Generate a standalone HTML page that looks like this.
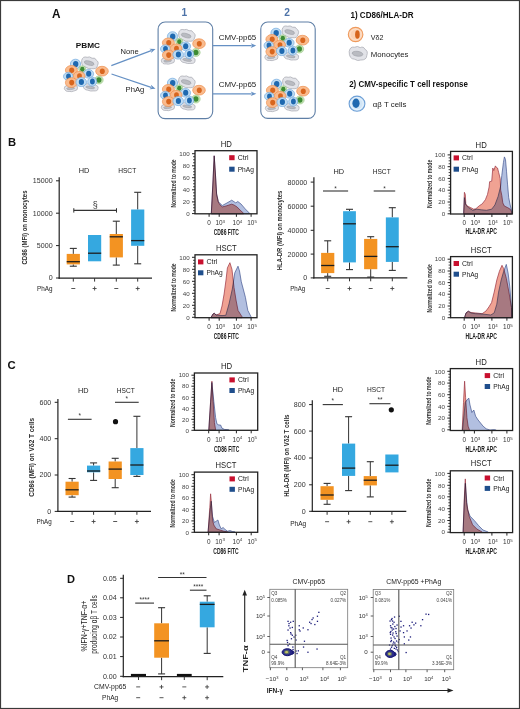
<!DOCTYPE html><html><head><meta charset="utf-8"><style>html,body{margin:0;padding:0;background:#fff;width:520px;height:709px;overflow:hidden}</style></head><body><svg width="520" height="709" viewBox="0 0 520 709" style="display:block;font-family:'Liberation Sans', sans-serif">
<rect x="0" y="0" width="520" height="709" fill="#fff"/>
<defs><g id="cl"><g transform="translate(25.6,5.9) rotate(14)"><path d="M-8.3,-0.5700000000000001 Q-8.3,-5.13 -3.7350000000000003,-4.845 Q-1.6600000000000001,-6.555 1.245,-5.13 Q4.15,-6.84 5.8100000000000005,-4.275 Q9.13,-3.42 8.3,0.5700000000000001 Q8.715000000000002,4.5600000000000005 3.3200000000000003,5.13 Q0.8300000000000001,6.555 -2.49,5.13 Q-7.470000000000001,5.7 -8.3,-0.5700000000000001 Z" fill="#e2e3e8" stroke="#a9abb3" stroke-width="0.7"/><ellipse cx="-0.41500000000000004" cy="0.28500000000000003" rx="4.98" ry="2.052" fill="#b9bbc1" stroke="#96989f" stroke-width="0.5"/></g><g transform="translate(26.6,30.3) rotate(8)"><path d="M-7.5,-0.36000000000000004 Q-7.5,-3.24 -3.375,-3.06 Q-1.5,-4.14 1.125,-3.24 Q3.75,-4.32 5.25,-2.7 Q8.25,-2.16 7.5,0.36000000000000004 Q7.875,2.8800000000000003 3.0,3.24 Q0.75,4.14 -2.25,3.24 Q-6.75,3.6 -7.5,-0.36000000000000004 Z" fill="#e2e3e8" stroke="#a9abb3" stroke-width="0.7"/><ellipse cx="-0.375" cy="0.18000000000000002" rx="4.5" ry="1.296" fill="#b9bbc1" stroke="#96989f" stroke-width="0.5"/></g><g transform="translate(6.9,31.2) rotate(-4)"><path d="M-6.6,-0.34 Q-6.6,-3.06 -2.9699999999999998,-2.8899999999999997 Q-1.32,-3.9099999999999997 0.9899999999999999,-3.06 Q3.3,-4.08 4.619999999999999,-2.55 Q7.26,-2.04 6.6,0.34 Q6.93,2.72 2.64,3.06 Q0.66,3.9099999999999997 -1.9799999999999998,3.06 Q-5.9399999999999995,3.4 -6.6,-0.34 Z" fill="#e2e3e8" stroke="#a9abb3" stroke-width="0.7"/><ellipse cx="-0.33" cy="0.17" rx="3.9599999999999995" ry="1.224" fill="#b9bbc1" stroke="#96989f" stroke-width="0.5"/></g><ellipse cx="11.5" cy="7" rx="5.1" ry="4.8" fill="#bfdcf3" stroke="#72aadf" stroke-width="0.7"/><ellipse cx="11.7" cy="7" rx="2.7" ry="3.1" fill="#1f69b0"/><ellipse cx="38" cy="14.2" rx="6.3" ry="4.9" fill="#f9bb8e" stroke="#ee9050" stroke-width="0.7"/><ellipse cx="38.3" cy="14.2" rx="2.5" ry="2.8" fill="#d8661e"/><ellipse cx="7.4" cy="13.2" rx="6.0" ry="4.7" fill="#f9bb8e" stroke="#ee9050" stroke-width="0.7"/><ellipse cx="7.7" cy="13.2" rx="2.5" ry="2.7" fill="#d8661e"/><ellipse cx="18.3" cy="12.2" rx="3.6" ry="3.5" fill="#c4e2b4" stroke="#98c886" stroke-width="0.6"/><ellipse cx="18.3" cy="12.2" rx="2.16" ry="2.4499999999999997" fill="#3d8c34"/><ellipse cx="24.5" cy="16.8" rx="5.1" ry="4.3" fill="#bfdcf3" stroke="#72aadf" stroke-width="0.7"/><ellipse cx="24.7" cy="16.8" rx="2.6" ry="3.0" fill="#1f69b0"/><ellipse cx="4.3" cy="19.4" rx="4.8" ry="4.0" fill="#bfdcf3" stroke="#72aadf" stroke-width="0.7"/><ellipse cx="4.5" cy="19.4" rx="2.4" ry="2.8" fill="#1f69b0"/><ellipse cx="15.2" cy="18.9" rx="5.8" ry="4.5" fill="#f9bb8e" stroke="#ee9050" stroke-width="0.7"/><ellipse cx="15.5" cy="18.9" rx="2.4" ry="2.7" fill="#d8661e"/><ellipse cx="34.9" cy="23" rx="4.3" ry="4.0" fill="#c4e2b4" stroke="#98c886" stroke-width="0.6"/><ellipse cx="34.9" cy="23" rx="2.5799999999999996" ry="2.8" fill="#3d8c34"/><ellipse cx="7.4" cy="25.6" rx="6.0" ry="4.9" fill="#f9bb8e" stroke="#ee9050" stroke-width="0.7"/><ellipse cx="7.7" cy="25.6" rx="2.5" ry="2.8" fill="#d8661e"/><ellipse cx="17.2" cy="25.1" rx="5.3" ry="4.5" fill="#bfdcf3" stroke="#72aadf" stroke-width="0.7"/><ellipse cx="17.4" cy="25.1" rx="2.6" ry="3.0" fill="#1f69b0"/><ellipse cx="28.2" cy="24.6" rx="4.5" ry="4.5" fill="#bfdcf3" stroke="#72aadf" stroke-width="0.7"/><ellipse cx="28.4" cy="24.6" rx="2.4" ry="3.0" fill="#1f69b0"/></g></defs>
<rect x="0.5" y="0.5" width="519" height="708" fill="none" stroke="#3a3a3a" stroke-width="1.2"/>
<text x="52" y="18" font-size="12.3" font-weight="bold" fill="#111" text-anchor="start" textLength="8.5" lengthAdjust="spacingAndGlyphs" >A</text>
<text x="184.4" y="16" font-size="10.2" font-weight="bold" fill="#4d73a8" text-anchor="middle" >1</text>
<text x="287.2" y="16" font-size="10.2" font-weight="bold" fill="#4d73a8" text-anchor="middle" >2</text>
<rect x="158.1" y="22" width="54.6" height="96.6" rx="7" fill="none" stroke="#5f7fa6" stroke-width="1.1"/>
<rect x="260.8" y="22" width="54.4" height="96.4" rx="7" fill="none" stroke="#5f7fa6" stroke-width="1.1"/>
<text x="75.8" y="47.6" font-size="7.9" font-weight="bold" fill="#111" text-anchor="start" textLength="24.2" lengthAdjust="spacingAndGlyphs" >PBMC</text>
<text x="120.6" y="53.7" font-size="7.9" font-weight="normal" fill="#222" text-anchor="start" textLength="18.1" lengthAdjust="spacingAndGlyphs" >None</text>
<text x="125.6" y="91.6" font-size="7.9" font-weight="normal" fill="#222" text-anchor="start" textLength="18.8" lengthAdjust="spacingAndGlyphs" >PhAg</text>
<text x="218.7" y="39.8" font-size="8" font-weight="normal" fill="#222" text-anchor="start" textLength="37.6" lengthAdjust="spacingAndGlyphs" >CMV-pp65</text>
<text x="218.7" y="87.4" font-size="8" font-weight="normal" fill="#222" text-anchor="start" textLength="37.6" lengthAdjust="spacingAndGlyphs" >CMV-pp65</text>
<line x1="111.3" y1="65.6" x2="151.19368708974446" y2="50.61730303869326" stroke="#6590c4" stroke-width="1.15"/>
<polygon points="155.5,49 151.06618362860075,53.12204711092826 151.66176457998964,50.441509230139644 149.4488805899075,48.815734200672715" fill="#6590c4"/>
<line x1="111.5" y1="74" x2="151.14003663201188" y2="87.33346686713126" stroke="#6590c4" stroke-width="1.15"/>
<polygon points="155.5,88.8 149.45895194210183,89.19463700050169 151.6139456937497,87.49287264244309 150.92548507497057,84.83467363251357" fill="#6590c4"/>
<line x1="213" y1="45.6" x2="251.70000000000002" y2="45.6" stroke="#6590c4" stroke-width="1.15"/>
<polygon points="256.3,45.6 250.70000000000002,47.9 252.20000000000002,45.6 250.70000000000002,43.300000000000004" fill="#6590c4"/>
<line x1="213" y1="93.8" x2="251.70000000000002" y2="93.8" stroke="#6590c4" stroke-width="1.15"/>
<polygon points="256.3,93.8 250.70000000000002,96.1 252.20000000000002,93.8 250.70000000000002,91.5" fill="#6590c4"/>
<use href="#cl" x="64" y="57"/>
<use href="#cl" x="161" y="29.5"/>
<use href="#cl" x="161" y="76"/>
<use href="#cl" x="264.5" y="26"/>
<use href="#cl" x="265" y="77"/>
<text x="350.4" y="18.0" font-size="8.3" font-weight="bold" fill="#111" text-anchor="start" textLength="63.3" lengthAdjust="spacingAndGlyphs" >1) CD86/HLA-DR</text>
<ellipse cx="355.6" cy="34.5" rx="7.3" ry="7.1" fill="#fbd2b4" stroke="#ef9a5c" stroke-width="1.1"/><ellipse cx="355.6" cy="34.5" rx="5.6" ry="5.5" fill="none" stroke="#fde4d2" stroke-width="0.8"/><ellipse cx="357.4" cy="34.5" rx="2.3" ry="4.3" fill="#d6641c"/>
<text x="370.8" y="39.6" font-size="7.9" font-weight="normal" fill="#222" text-anchor="start" textLength="12.7" lengthAdjust="spacingAndGlyphs" >V&#948;2</text>
<g transform="translate(358,53.5) rotate(8)"><path d="M-9,-0.68 Q-9.0,-6.12 -4.05,-5.779999999999999 Q-1.8,-7.819999999999999 1.3499999999999999,-6.12 Q4.5,-8.16 6.3,-5.1 Q9.9,-4.08 9,0.68 Q9.450000000000001,5.44 3.6,6.12 Q0.9,7.819999999999999 -2.6999999999999997,6.12 Q-8.1,6.8 -9,-0.68 Z" fill="#e2e3e8" stroke="#a9abb3" stroke-width="0.7"/><ellipse cx="-0.45" cy="0.34" rx="5.3999999999999995" ry="2.448" fill="#b9bbc1" stroke="#96989f" stroke-width="0.5"/></g>
<text x="370.8" y="57.4" font-size="7.9" font-weight="normal" fill="#222" text-anchor="start" textLength="37.6" lengthAdjust="spacingAndGlyphs" >Monocytes</text>
<text x="349.2" y="86.9" font-size="8.3" font-weight="bold" fill="#111" text-anchor="start" textLength="118.7" lengthAdjust="spacingAndGlyphs" >2) CMV-specific T cell response</text>
<ellipse cx="357" cy="103.7" rx="7.9" ry="7.6" fill="#d2e6f7" stroke="#6d9fd6" stroke-width="1.1"/><ellipse cx="357" cy="103.7" rx="6.2" ry="6" fill="none" stroke="#eef6fd" stroke-width="0.8"/><ellipse cx="356" cy="103.3" rx="3.6" ry="4.7" fill="#1f69b0"/>
<text x="372.7" y="107.2" font-size="7.9" font-weight="normal" fill="#222" text-anchor="start" textLength="33.7" lengthAdjust="spacingAndGlyphs" >&#945;&#946; T cells</text>
<line x1="59.2" y1="177.2" x2="59.2" y2="278.70000000000005" stroke="#222" stroke-width="1.2"/>
<line x1="58.6" y1="278.1" x2="152" y2="278.1" stroke="#222" stroke-width="1.2"/>
<line x1="56.0" y1="180.8" x2="59.2" y2="180.8" stroke="#222" stroke-width="1"/>
<text x="52.6" y="183.20000000000002" font-size="7.1" font-weight="normal" fill="#333" text-anchor="end" >15000</text>
<line x1="56.0" y1="213.2" x2="59.2" y2="213.2" stroke="#222" stroke-width="1"/>
<text x="52.6" y="215.6" font-size="7.1" font-weight="normal" fill="#333" text-anchor="end" >10000</text>
<line x1="56.0" y1="245.6" x2="59.2" y2="245.6" stroke="#222" stroke-width="1"/>
<text x="52.6" y="248.0" font-size="7.1" font-weight="normal" fill="#333" text-anchor="end" >5000</text>
<line x1="56.0" y1="278" x2="59.2" y2="278" stroke="#222" stroke-width="1"/>
<text x="52.6" y="280.4" font-size="7.1" font-weight="normal" fill="#333" text-anchor="end" >0</text>
<line x1="73.3" y1="278.1" x2="73.3" y2="281.6" stroke="#333" stroke-width="1"/>
<line x1="73.3" y1="248.4" x2="73.3" y2="253.9" stroke="#333" stroke-width="1"/>
<line x1="69.8" y1="248.4" x2="76.8" y2="248.4" stroke="#333" stroke-width="1.1"/>
<line x1="73.3" y1="264.4" x2="73.3" y2="266.2" stroke="#333" stroke-width="1"/>
<line x1="69.8" y1="266.2" x2="76.8" y2="266.2" stroke="#333" stroke-width="1.1"/>
<rect x="66.7" y="253.9" width="13.2" height="10.499999999999972" fill="#f39322"/>
<line x1="66.7" y1="261.7" x2="79.89999999999999" y2="261.7" stroke="#1d1d1d" stroke-width="1.3"/>
<line x1="94.6" y1="278.1" x2="94.6" y2="281.6" stroke="#333" stroke-width="1"/>
<rect x="88.0" y="235" width="13.2" height="26.30000000000001" fill="#35a8e0"/>
<line x1="88.0" y1="253.2" x2="101.19999999999999" y2="253.2" stroke="#1d1d1d" stroke-width="1.3"/>
<line x1="116.3" y1="278.1" x2="116.3" y2="281.6" stroke="#333" stroke-width="1"/>
<line x1="116.3" y1="221.2" x2="116.3" y2="234" stroke="#333" stroke-width="1"/>
<line x1="112.8" y1="221.2" x2="119.8" y2="221.2" stroke="#333" stroke-width="1.1"/>
<line x1="116.3" y1="257.4" x2="116.3" y2="265.1" stroke="#333" stroke-width="1"/>
<line x1="112.8" y1="265.1" x2="119.8" y2="265.1" stroke="#333" stroke-width="1.1"/>
<rect x="109.7" y="234" width="13.2" height="23.399999999999977" fill="#f39322"/>
<line x1="109.7" y1="236.8" x2="122.89999999999999" y2="236.8" stroke="#1d1d1d" stroke-width="1.3"/>
<line x1="137.7" y1="278.1" x2="137.7" y2="281.6" stroke="#333" stroke-width="1"/>
<line x1="137.7" y1="192.3" x2="137.7" y2="209.5" stroke="#333" stroke-width="1"/>
<line x1="134.2" y1="192.3" x2="141.2" y2="192.3" stroke="#333" stroke-width="1.1"/>
<line x1="137.7" y1="245.8" x2="137.7" y2="263.8" stroke="#333" stroke-width="1"/>
<line x1="134.2" y1="263.8" x2="141.2" y2="263.8" stroke="#333" stroke-width="1.1"/>
<rect x="131.1" y="209.5" width="13.2" height="36.30000000000001" fill="#35a8e0"/>
<line x1="131.1" y1="240.6" x2="144.29999999999998" y2="240.6" stroke="#1d1d1d" stroke-width="1.3"/>
<line x1="73.8" y1="210.4" x2="116.5" y2="210.4" stroke="#333" stroke-width="1.1"/>
<line x1="73.8" y1="208.20000000000002" x2="73.8" y2="212.6" stroke="#333" stroke-width="1"/>
<line x1="116.5" y1="208.20000000000002" x2="116.5" y2="212.6" stroke="#333" stroke-width="1"/>
<text x="95.15" y="207.6" font-size="9" font-weight="normal" fill="#333" text-anchor="middle" >&#167;</text>
<text x="84" y="173.1" font-size="7.2" font-weight="normal" fill="#222" text-anchor="middle" textLength="10.6" lengthAdjust="spacingAndGlyphs" >HD</text>
<text x="127.2" y="173.1" font-size="7.2" font-weight="normal" fill="#222" text-anchor="middle" textLength="18" lengthAdjust="spacingAndGlyphs" >HSCT</text>
<text x="37" y="291" font-size="7.2" font-weight="normal" fill="#222" text-anchor="start" textLength="15.5" lengthAdjust="spacingAndGlyphs" >PhAg</text>
<line x1="71.3" y1="288.5" x2="75.3" y2="288.5" stroke="#444" stroke-width="0.9"/>
<line x1="92.6" y1="288.5" x2="96.6" y2="288.5" stroke="#444" stroke-width="0.9"/>
<line x1="94.6" y1="286.5" x2="94.6" y2="290.5" stroke="#444" stroke-width="0.9"/>
<line x1="114.3" y1="288.5" x2="118.3" y2="288.5" stroke="#444" stroke-width="0.9"/>
<line x1="135.7" y1="288.5" x2="139.7" y2="288.5" stroke="#444" stroke-width="0.9"/>
<line x1="137.7" y1="286.5" x2="137.7" y2="290.5" stroke="#444" stroke-width="0.9"/>
<text transform="translate(27,227.5) rotate(-90)" x="0" y="0" font-size="7.6" font-weight="bold" fill="#2a2a2a" text-anchor="middle" textLength="74" lengthAdjust="spacingAndGlyphs">CD86 (MFI) on monocytes</text>
<line x1="313.9" y1="177.2" x2="313.9" y2="278.40000000000003" stroke="#222" stroke-width="1.2"/>
<line x1="313.29999999999995" y1="277.8" x2="407.3" y2="277.8" stroke="#222" stroke-width="1.2"/>
<line x1="310.7" y1="182.1" x2="313.9" y2="182.1" stroke="#222" stroke-width="1"/>
<text x="307.29999999999995" y="184.5" font-size="7.1" font-weight="normal" fill="#333" text-anchor="end" >80000</text>
<line x1="310.7" y1="206.2" x2="313.9" y2="206.2" stroke="#222" stroke-width="1"/>
<text x="307.29999999999995" y="208.6" font-size="7.1" font-weight="normal" fill="#333" text-anchor="end" >60000</text>
<line x1="310.7" y1="230.3" x2="313.9" y2="230.3" stroke="#222" stroke-width="1"/>
<text x="307.29999999999995" y="232.70000000000002" font-size="7.1" font-weight="normal" fill="#333" text-anchor="end" >40000</text>
<line x1="310.7" y1="254.1" x2="313.9" y2="254.1" stroke="#222" stroke-width="1"/>
<text x="307.29999999999995" y="256.5" font-size="7.1" font-weight="normal" fill="#333" text-anchor="end" >20000</text>
<line x1="310.7" y1="277.9" x2="313.9" y2="277.9" stroke="#222" stroke-width="1"/>
<text x="307.29999999999995" y="280.29999999999995" font-size="7.1" font-weight="normal" fill="#333" text-anchor="end" >0</text>
<line x1="327.7" y1="277.8" x2="327.7" y2="281.3" stroke="#333" stroke-width="1"/>
<line x1="327.7" y1="240.8" x2="327.7" y2="252.9" stroke="#333" stroke-width="1"/>
<line x1="324.2" y1="240.8" x2="331.2" y2="240.8" stroke="#333" stroke-width="1.1"/>
<line x1="327.7" y1="273.1" x2="327.7" y2="276.3" stroke="#333" stroke-width="1"/>
<line x1="324.2" y1="276.3" x2="331.2" y2="276.3" stroke="#333" stroke-width="1.1"/>
<rect x="321.09999999999997" y="252.9" width="13.2" height="20.200000000000017" fill="#f39322"/>
<line x1="321.09999999999997" y1="265.5" x2="334.3" y2="265.5" stroke="#1d1d1d" stroke-width="1.3"/>
<line x1="349.5" y1="277.8" x2="349.5" y2="281.3" stroke="#333" stroke-width="1"/>
<line x1="349.5" y1="209.3" x2="349.5" y2="211.2" stroke="#333" stroke-width="1"/>
<line x1="346.0" y1="209.3" x2="353.0" y2="209.3" stroke="#333" stroke-width="1.1"/>
<line x1="349.5" y1="262.4" x2="349.5" y2="269.6" stroke="#333" stroke-width="1"/>
<line x1="346.0" y1="269.6" x2="353.0" y2="269.6" stroke="#333" stroke-width="1.1"/>
<rect x="343.1" y="211.2" width="12.8" height="51.19999999999999" fill="#35a8e0"/>
<line x1="343.1" y1="223.8" x2="355.9" y2="223.8" stroke="#1d1d1d" stroke-width="1.3"/>
<line x1="370.7" y1="277.8" x2="370.7" y2="281.3" stroke="#333" stroke-width="1"/>
<line x1="370.7" y1="236.7" x2="370.7" y2="238.9" stroke="#333" stroke-width="1"/>
<line x1="367.2" y1="236.7" x2="374.2" y2="236.7" stroke="#333" stroke-width="1.1"/>
<line x1="370.7" y1="269.2" x2="370.7" y2="277.1" stroke="#333" stroke-width="1"/>
<line x1="367.2" y1="277.1" x2="374.2" y2="277.1" stroke="#333" stroke-width="1.1"/>
<rect x="364.09999999999997" y="238.9" width="13.2" height="30.299999999999983" fill="#f39322"/>
<line x1="364.09999999999997" y1="256.4" x2="377.3" y2="256.4" stroke="#1d1d1d" stroke-width="1.3"/>
<line x1="392.3" y1="277.8" x2="392.3" y2="281.3" stroke="#333" stroke-width="1"/>
<line x1="392.3" y1="207.7" x2="392.3" y2="217.4" stroke="#333" stroke-width="1"/>
<line x1="388.8" y1="207.7" x2="395.8" y2="207.7" stroke="#333" stroke-width="1.1"/>
<line x1="392.3" y1="261.9" x2="392.3" y2="270.4" stroke="#333" stroke-width="1"/>
<line x1="388.8" y1="270.4" x2="395.8" y2="270.4" stroke="#333" stroke-width="1.1"/>
<rect x="385.85" y="217.4" width="12.9" height="44.49999999999997" fill="#35a8e0"/>
<line x1="385.85" y1="246.7" x2="398.75" y2="246.7" stroke="#1d1d1d" stroke-width="1.3"/>
<line x1="323" y1="191" x2="348.1" y2="191" stroke="#333" stroke-width="1.1"/>
<text x="335.55" y="190.6" font-size="6.5" font-weight="normal" fill="#333" text-anchor="middle" >*</text>
<line x1="373.7" y1="191" x2="395.2" y2="191" stroke="#333" stroke-width="1.1"/>
<text x="384.45" y="190.6" font-size="6.5" font-weight="normal" fill="#333" text-anchor="middle" >*</text>
<text x="338.7" y="173.9" font-size="7.2" font-weight="normal" fill="#222" text-anchor="middle" textLength="10.6" lengthAdjust="spacingAndGlyphs" >HD</text>
<text x="381.7" y="173.9" font-size="7.2" font-weight="normal" fill="#222" text-anchor="middle" textLength="18" lengthAdjust="spacingAndGlyphs" >HSCT</text>
<text x="290.2" y="291" font-size="7.2" font-weight="normal" fill="#222" text-anchor="start" textLength="15" lengthAdjust="spacingAndGlyphs" >PhAg</text>
<line x1="325.7" y1="288.5" x2="329.7" y2="288.5" stroke="#444" stroke-width="0.9"/>
<line x1="347.5" y1="288.5" x2="351.5" y2="288.5" stroke="#444" stroke-width="0.9"/>
<line x1="349.5" y1="286.5" x2="349.5" y2="290.5" stroke="#444" stroke-width="0.9"/>
<line x1="368.7" y1="288.5" x2="372.7" y2="288.5" stroke="#444" stroke-width="0.9"/>
<line x1="390.3" y1="288.5" x2="394.3" y2="288.5" stroke="#444" stroke-width="0.9"/>
<line x1="392.3" y1="286.5" x2="392.3" y2="290.5" stroke="#444" stroke-width="0.9"/>
<text transform="translate(282,230.4) rotate(-90)" x="0" y="0" font-size="7.6" font-weight="bold" fill="#2a2a2a" text-anchor="middle" textLength="79.5" lengthAdjust="spacingAndGlyphs">HLA-DR (MFI) on monocytes</text>
<line x1="57.9" y1="399.1" x2="57.9" y2="511.90000000000003" stroke="#222" stroke-width="1.2"/>
<line x1="57.3" y1="511.3" x2="151" y2="511.3" stroke="#222" stroke-width="1.2"/>
<line x1="54.699999999999996" y1="402.3" x2="57.9" y2="402.3" stroke="#222" stroke-width="1"/>
<text x="51.3" y="404.7" font-size="7.1" font-weight="normal" fill="#333" text-anchor="end" >600</text>
<line x1="54.699999999999996" y1="438.7" x2="57.9" y2="438.7" stroke="#222" stroke-width="1"/>
<text x="51.3" y="441.09999999999997" font-size="7.1" font-weight="normal" fill="#333" text-anchor="end" >400</text>
<line x1="54.699999999999996" y1="475" x2="57.9" y2="475" stroke="#222" stroke-width="1"/>
<text x="51.3" y="477.4" font-size="7.1" font-weight="normal" fill="#333" text-anchor="end" >200</text>
<line x1="54.699999999999996" y1="511.4" x2="57.9" y2="511.4" stroke="#222" stroke-width="1"/>
<text x="51.3" y="513.8" font-size="7.1" font-weight="normal" fill="#333" text-anchor="end" >0</text>
<line x1="72.1" y1="511.3" x2="72.1" y2="514.8" stroke="#333" stroke-width="1"/>
<line x1="72.1" y1="478.5" x2="72.1" y2="481.7" stroke="#333" stroke-width="1"/>
<line x1="68.6" y1="478.5" x2="75.6" y2="478.5" stroke="#333" stroke-width="1.1"/>
<line x1="72.1" y1="495.2" x2="72.1" y2="497.1" stroke="#333" stroke-width="1"/>
<line x1="68.6" y1="497.1" x2="75.6" y2="497.1" stroke="#333" stroke-width="1.1"/>
<rect x="65.5" y="481.7" width="13.2" height="13.5" fill="#f39322"/>
<line x1="65.5" y1="489.8" x2="78.69999999999999" y2="489.8" stroke="#1d1d1d" stroke-width="1.3"/>
<line x1="93.6" y1="511.3" x2="93.6" y2="514.8" stroke="#333" stroke-width="1"/>
<line x1="93.6" y1="462.9" x2="93.6" y2="465.6" stroke="#333" stroke-width="1"/>
<line x1="90.1" y1="462.9" x2="97.1" y2="462.9" stroke="#333" stroke-width="1.1"/>
<line x1="93.6" y1="472.3" x2="93.6" y2="480.4" stroke="#333" stroke-width="1"/>
<line x1="90.1" y1="480.4" x2="97.1" y2="480.4" stroke="#333" stroke-width="1.1"/>
<rect x="87.0" y="465.6" width="13.2" height="6.699999999999989" fill="#35a8e0"/>
<line x1="87.0" y1="471.0" x2="100.19999999999999" y2="471.0" stroke="#1d1d1d" stroke-width="1.3"/>
<line x1="115.2" y1="511.3" x2="115.2" y2="514.8" stroke="#333" stroke-width="1"/>
<line x1="115.2" y1="458.3" x2="115.2" y2="461.5" stroke="#333" stroke-width="1"/>
<line x1="111.7" y1="458.3" x2="118.7" y2="458.3" stroke="#333" stroke-width="1.1"/>
<line x1="115.2" y1="479.0" x2="115.2" y2="487.7" stroke="#333" stroke-width="1"/>
<line x1="111.7" y1="487.7" x2="118.7" y2="487.7" stroke="#333" stroke-width="1.1"/>
<rect x="108.60000000000001" y="461.5" width="13.2" height="17.5" fill="#f39322"/>
<line x1="108.60000000000001" y1="469.1" x2="121.8" y2="469.1" stroke="#1d1d1d" stroke-width="1.3"/>
<circle cx="115.5" cy="421.7" r="2.6" fill="#111"/>
<line x1="136.9" y1="511.3" x2="136.9" y2="514.8" stroke="#333" stroke-width="1"/>
<line x1="136.9" y1="416.3" x2="136.9" y2="448.1" stroke="#333" stroke-width="1"/>
<line x1="133.4" y1="416.3" x2="140.4" y2="416.3" stroke="#333" stroke-width="1.1"/>
<line x1="136.9" y1="475.0" x2="136.9" y2="476.4" stroke="#333" stroke-width="1"/>
<line x1="133.4" y1="476.4" x2="140.4" y2="476.4" stroke="#333" stroke-width="1.1"/>
<rect x="130.3" y="448.1" width="13.2" height="26.899999999999977" fill="#35a8e0"/>
<line x1="130.3" y1="465.0" x2="143.5" y2="465.0" stroke="#1d1d1d" stroke-width="1.3"/>
<line x1="67.9" y1="419.3" x2="91.6" y2="419.3" stroke="#333" stroke-width="1.1"/>
<text x="79.75" y="417.8" font-size="6.5" font-weight="normal" fill="#333" text-anchor="middle" >*</text>
<line x1="115" y1="402.3" x2="138.7" y2="402.3" stroke="#333" stroke-width="1.1"/>
<text x="126.85" y="400.8" font-size="6.5" font-weight="normal" fill="#333" text-anchor="middle" >*</text>
<text x="83.2" y="393.4" font-size="7.2" font-weight="normal" fill="#222" text-anchor="middle" textLength="10.6" lengthAdjust="spacingAndGlyphs" >HD</text>
<text x="125.8" y="393.4" font-size="7.2" font-weight="normal" fill="#222" text-anchor="middle" textLength="18" lengthAdjust="spacingAndGlyphs" >HSCT</text>
<text x="36.4" y="523.8" font-size="7.2" font-weight="normal" fill="#222" text-anchor="start" textLength="15.3" lengthAdjust="spacingAndGlyphs" >PhAg</text>
<line x1="70.1" y1="521.5" x2="74.1" y2="521.5" stroke="#444" stroke-width="0.9"/>
<line x1="91.6" y1="521.5" x2="95.6" y2="521.5" stroke="#444" stroke-width="0.9"/>
<line x1="93.6" y1="519.5" x2="93.6" y2="523.5" stroke="#444" stroke-width="0.9"/>
<line x1="113.2" y1="521.5" x2="117.2" y2="521.5" stroke="#444" stroke-width="0.9"/>
<line x1="134.9" y1="521.5" x2="138.9" y2="521.5" stroke="#444" stroke-width="0.9"/>
<line x1="136.9" y1="519.5" x2="136.9" y2="523.5" stroke="#444" stroke-width="0.9"/>
<text transform="translate(34.2,457.3) rotate(-90)" x="0" y="0" font-size="7.6" font-weight="bold" fill="#2a2a2a" text-anchor="middle" textLength="78.8" lengthAdjust="spacingAndGlyphs">CD86 (MFI) on V&#948;2 T cells</text>
<line x1="312.3" y1="400.3" x2="312.3" y2="511.90000000000003" stroke="#222" stroke-width="1.2"/>
<line x1="311.7" y1="511.3" x2="406.3" y2="511.3" stroke="#222" stroke-width="1.2"/>
<line x1="309.1" y1="404.6" x2="312.3" y2="404.6" stroke="#222" stroke-width="1"/>
<text x="305.7" y="407.0" font-size="7.1" font-weight="normal" fill="#333" text-anchor="end" >800</text>
<line x1="309.1" y1="431.1" x2="312.3" y2="431.1" stroke="#222" stroke-width="1"/>
<text x="305.7" y="433.5" font-size="7.1" font-weight="normal" fill="#333" text-anchor="end" >600</text>
<line x1="309.1" y1="458" x2="312.3" y2="458" stroke="#222" stroke-width="1"/>
<text x="305.7" y="460.4" font-size="7.1" font-weight="normal" fill="#333" text-anchor="end" >400</text>
<line x1="309.1" y1="484.8" x2="312.3" y2="484.8" stroke="#222" stroke-width="1"/>
<text x="305.7" y="487.2" font-size="7.1" font-weight="normal" fill="#333" text-anchor="end" >200</text>
<line x1="309.1" y1="511.3" x2="312.3" y2="511.3" stroke="#222" stroke-width="1"/>
<text x="305.7" y="513.7" font-size="7.1" font-weight="normal" fill="#333" text-anchor="end" >0</text>
<line x1="327.1" y1="511.3" x2="327.1" y2="514.8" stroke="#333" stroke-width="1"/>
<line x1="327.1" y1="483.4" x2="327.1" y2="486.2" stroke="#333" stroke-width="1"/>
<line x1="323.6" y1="483.4" x2="330.6" y2="483.4" stroke="#333" stroke-width="1.1"/>
<line x1="327.1" y1="499.8" x2="327.1" y2="504.3" stroke="#333" stroke-width="1"/>
<line x1="323.6" y1="504.3" x2="330.6" y2="504.3" stroke="#333" stroke-width="1.1"/>
<rect x="320.5" y="486.2" width="13.2" height="13.600000000000023" fill="#f39322"/>
<line x1="320.5" y1="495.0" x2="333.70000000000005" y2="495.0" stroke="#1d1d1d" stroke-width="1.3"/>
<line x1="348.6" y1="511.3" x2="348.6" y2="514.8" stroke="#333" stroke-width="1"/>
<line x1="348.6" y1="416.7" x2="348.6" y2="443.6" stroke="#333" stroke-width="1"/>
<line x1="345.1" y1="416.7" x2="352.1" y2="416.7" stroke="#333" stroke-width="1.1"/>
<line x1="348.6" y1="475.9" x2="348.6" y2="490.6" stroke="#333" stroke-width="1"/>
<line x1="345.1" y1="490.6" x2="352.1" y2="490.6" stroke="#333" stroke-width="1.1"/>
<rect x="342.0" y="443.6" width="13.2" height="32.299999999999955" fill="#35a8e0"/>
<line x1="342.0" y1="468.1" x2="355.20000000000005" y2="468.1" stroke="#1d1d1d" stroke-width="1.3"/>
<line x1="370.3" y1="511.3" x2="370.3" y2="514.8" stroke="#333" stroke-width="1"/>
<line x1="370.3" y1="461.7" x2="370.3" y2="476.1" stroke="#333" stroke-width="1"/>
<line x1="366.8" y1="461.7" x2="373.8" y2="461.7" stroke="#333" stroke-width="1.1"/>
<line x1="370.3" y1="485.4" x2="370.3" y2="496.9" stroke="#333" stroke-width="1"/>
<line x1="366.8" y1="496.9" x2="373.8" y2="496.9" stroke="#333" stroke-width="1.1"/>
<rect x="363.7" y="476.1" width="13.2" height="9.299999999999955" fill="#f39322"/>
<line x1="363.7" y1="480.2" x2="376.90000000000003" y2="480.2" stroke="#1d1d1d" stroke-width="1.3"/>
<line x1="391.9" y1="511.3" x2="391.9" y2="514.8" stroke="#333" stroke-width="1"/>
<rect x="385.29999999999995" y="454.5" width="13.2" height="17.899999999999977" fill="#35a8e0"/>
<line x1="385.29999999999995" y1="465.2" x2="398.5" y2="465.2" stroke="#1d1d1d" stroke-width="1.3"/>
<circle cx="391.3" cy="409.8" r="2.6" fill="#111"/>
<line x1="322.7" y1="404.6" x2="342.9" y2="404.6" stroke="#333" stroke-width="1.1"/>
<text x="332.79999999999995" y="403.2" font-size="6.5" font-weight="normal" fill="#333" text-anchor="middle" >*</text>
<line x1="369.4" y1="403.7" x2="390.5" y2="403.7" stroke="#333" stroke-width="1.1"/>
<text x="379.95" y="402.3" font-size="6.5" font-weight="normal" fill="#333" text-anchor="middle" >**</text>
<text x="337.7" y="392" font-size="7.2" font-weight="normal" fill="#222" text-anchor="middle" textLength="10.6" lengthAdjust="spacingAndGlyphs" >HD</text>
<text x="376" y="392" font-size="7.2" font-weight="normal" fill="#222" text-anchor="middle" textLength="18" lengthAdjust="spacingAndGlyphs" >HSCT</text>
<text x="290.2" y="526.3" font-size="7.2" font-weight="normal" fill="#222" text-anchor="start" textLength="16" lengthAdjust="spacingAndGlyphs" >PhAg</text>
<line x1="325.1" y1="521.7" x2="329.1" y2="521.7" stroke="#444" stroke-width="0.9"/>
<line x1="346.6" y1="521.7" x2="350.6" y2="521.7" stroke="#444" stroke-width="0.9"/>
<line x1="348.6" y1="519.7" x2="348.6" y2="523.7" stroke="#444" stroke-width="0.9"/>
<line x1="368.3" y1="521.7" x2="372.3" y2="521.7" stroke="#444" stroke-width="0.9"/>
<line x1="389.9" y1="521.7" x2="393.9" y2="521.7" stroke="#444" stroke-width="0.9"/>
<line x1="391.9" y1="519.7" x2="391.9" y2="523.7" stroke="#444" stroke-width="0.9"/>
<text transform="translate(288.8,455.6) rotate(-90)" x="0" y="0" font-size="7.6" font-weight="bold" fill="#2a2a2a" text-anchor="middle" textLength="82.2" lengthAdjust="spacingAndGlyphs">HLA-DR (MFI) on V&#948;2 T cells</text>
<line x1="192" y1="153.7" x2="195" y2="153.7" stroke="#222" stroke-width="1"/>
<text x="189.6" y="155.89999999999998" font-size="6.2" font-weight="normal" fill="#444" text-anchor="end" >100</text>
<line x1="192" y1="165.8" x2="195" y2="165.8" stroke="#222" stroke-width="1"/>
<text x="189.6" y="168.0" font-size="6.2" font-weight="normal" fill="#444" text-anchor="end" >80</text>
<line x1="192" y1="177.7" x2="195" y2="177.7" stroke="#222" stroke-width="1"/>
<text x="189.6" y="179.89999999999998" font-size="6.2" font-weight="normal" fill="#444" text-anchor="end" >60</text>
<line x1="192" y1="189.8" x2="195" y2="189.8" stroke="#222" stroke-width="1"/>
<text x="189.6" y="192.0" font-size="6.2" font-weight="normal" fill="#444" text-anchor="end" >40</text>
<line x1="192" y1="201.9" x2="195" y2="201.9" stroke="#222" stroke-width="1"/>
<text x="189.6" y="204.1" font-size="6.2" font-weight="normal" fill="#444" text-anchor="end" >20</text>
<line x1="192" y1="213.6" x2="195" y2="213.6" stroke="#222" stroke-width="1"/>
<text x="189.6" y="215.79999999999998" font-size="6.2" font-weight="normal" fill="#444" text-anchor="end" >0</text>
<line x1="193" y1="156.725" x2="195" y2="156.725" stroke="#333" stroke-width="0.9"/>
<line x1="193" y1="159.75" x2="195" y2="159.75" stroke="#333" stroke-width="0.9"/>
<line x1="193" y1="162.775" x2="195" y2="162.775" stroke="#333" stroke-width="0.9"/>
<line x1="193" y1="168.775" x2="195" y2="168.775" stroke="#333" stroke-width="0.9"/>
<line x1="193" y1="171.75" x2="195" y2="171.75" stroke="#333" stroke-width="0.9"/>
<line x1="193" y1="174.725" x2="195" y2="174.725" stroke="#333" stroke-width="0.9"/>
<line x1="193" y1="180.725" x2="195" y2="180.725" stroke="#333" stroke-width="0.9"/>
<line x1="193" y1="183.75" x2="195" y2="183.75" stroke="#333" stroke-width="0.9"/>
<line x1="193" y1="186.775" x2="195" y2="186.775" stroke="#333" stroke-width="0.9"/>
<line x1="193" y1="192.82500000000002" x2="195" y2="192.82500000000002" stroke="#333" stroke-width="0.9"/>
<line x1="193" y1="195.85000000000002" x2="195" y2="195.85000000000002" stroke="#333" stroke-width="0.9"/>
<line x1="193" y1="198.875" x2="195" y2="198.875" stroke="#333" stroke-width="0.9"/>
<line x1="193" y1="204.825" x2="195" y2="204.825" stroke="#333" stroke-width="0.9"/>
<line x1="193" y1="207.75" x2="195" y2="207.75" stroke="#333" stroke-width="0.9"/>
<line x1="193" y1="210.675" x2="195" y2="210.675" stroke="#333" stroke-width="0.9"/>
<line x1="209.1" y1="213.8" x2="209.1" y2="216.8" stroke="#222" stroke-width="1"/>
<text x="209.1" y="225.0" font-size="6.4" font-weight="normal" fill="#333" text-anchor="middle" >0</text>
<line x1="219.2" y1="213.8" x2="219.2" y2="216.8" stroke="#222" stroke-width="1"/>
<text x="220.2" y="225.0" font-size="6.4" font-weight="normal" fill="#333" text-anchor="middle" >10<tspan dy="-2.2" font-size="4.4">3</tspan></text>
<line x1="236.4" y1="213.8" x2="236.4" y2="216.8" stroke="#222" stroke-width="1"/>
<text x="237.4" y="225.0" font-size="6.4" font-weight="normal" fill="#333" text-anchor="middle" >10<tspan dy="-2.2" font-size="4.4">4</tspan></text>
<line x1="251.1" y1="213.8" x2="251.1" y2="216.8" stroke="#222" stroke-width="1"/>
<text x="252.1" y="225.0" font-size="6.4" font-weight="normal" fill="#333" text-anchor="middle" >10<tspan dy="-2.2" font-size="4.4">5</tspan></text>
<polygon points="211.3,213.8 211.3,213.8 212.8,185.0 214.2,155.8 215.3,172.0 216.6,194.0 218.3,201.5 220.0,203.5 222.3,205.5 226.0,203.5 229.0,201.8 231.7,200.2 235.8,202.9 237.8,201.5 241.0,204.0 245.2,208.9 249.9,213.6 249.9,213.8" fill="#b2bfe0" stroke="#42558f" stroke-width="0.7" stroke-linejoin="round"/>
<polygon points="211.3,213.8 211.3,213.8 212.8,185.0 214.2,155.8 215.3,172.0 216.6,194.0 218.3,202.0 220.0,205.0 222.3,206.9 226.0,206.0 229.0,205.0 231.7,204.2 234.0,205.0 237.1,207.0 240.0,210.0 243.8,213.5 243.8,213.8" fill="#f0a293" stroke="#9a3040" stroke-width="0.7" stroke-linejoin="round" style="mix-blend-mode:multiply"/>
<rect x="195" y="150.7" width="62" height="63.10000000000002" fill="none" stroke="#222" stroke-width="1.3"/>
<text x="226.3" y="147.2" font-size="8.6" font-weight="normal" fill="#222" text-anchor="middle" textLength="11.2" lengthAdjust="spacingAndGlyphs" >HD</text>
<text x="226.3" y="235.0" font-size="8.6" font-weight="bold" fill="#222" text-anchor="middle" textLength="25.3" lengthAdjust="spacingAndGlyphs" >CD86 FITC</text>
<rect x="229.2" y="155.2" width="5.4" height="5" fill="#c8102e"/>
<rect x="229.2" y="166.7" width="5.4" height="5" fill="#1f4e8c"/>
<text x="237.7" y="160.2" font-size="7.2" font-weight="normal" fill="#222" text-anchor="start" textLength="10.8" lengthAdjust="spacingAndGlyphs" >Ctrl</text>
<text x="237.7" y="171.7" font-size="7.2" font-weight="normal" fill="#222" text-anchor="start" textLength="16.2" lengthAdjust="spacingAndGlyphs" >PhAg</text>
<text transform="translate(175.9,183.45) rotate(-90)" x="0" y="0" font-size="7.8" font-weight="bold" fill="#333" text-anchor="middle" textLength="48.2" lengthAdjust="spacingAndGlyphs">Normalized to mode</text>
<line x1="192" y1="257.3" x2="195" y2="257.3" stroke="#222" stroke-width="1"/>
<text x="189.6" y="259.5" font-size="6.2" font-weight="normal" fill="#444" text-anchor="end" >100</text>
<line x1="192" y1="269.3" x2="195" y2="269.3" stroke="#222" stroke-width="1"/>
<text x="189.6" y="271.5" font-size="6.2" font-weight="normal" fill="#444" text-anchor="end" >80</text>
<line x1="192" y1="281.3" x2="195" y2="281.3" stroke="#222" stroke-width="1"/>
<text x="189.6" y="283.5" font-size="6.2" font-weight="normal" fill="#444" text-anchor="end" >60</text>
<line x1="192" y1="293.3" x2="195" y2="293.3" stroke="#222" stroke-width="1"/>
<text x="189.6" y="295.5" font-size="6.2" font-weight="normal" fill="#444" text-anchor="end" >40</text>
<line x1="192" y1="305.3" x2="195" y2="305.3" stroke="#222" stroke-width="1"/>
<text x="189.6" y="307.5" font-size="6.2" font-weight="normal" fill="#444" text-anchor="end" >20</text>
<line x1="192" y1="317.3" x2="195" y2="317.3" stroke="#222" stroke-width="1"/>
<text x="189.6" y="319.5" font-size="6.2" font-weight="normal" fill="#444" text-anchor="end" >0</text>
<line x1="193" y1="260.3" x2="195" y2="260.3" stroke="#333" stroke-width="0.9"/>
<line x1="193" y1="263.3" x2="195" y2="263.3" stroke="#333" stroke-width="0.9"/>
<line x1="193" y1="266.3" x2="195" y2="266.3" stroke="#333" stroke-width="0.9"/>
<line x1="193" y1="272.3" x2="195" y2="272.3" stroke="#333" stroke-width="0.9"/>
<line x1="193" y1="275.3" x2="195" y2="275.3" stroke="#333" stroke-width="0.9"/>
<line x1="193" y1="278.3" x2="195" y2="278.3" stroke="#333" stroke-width="0.9"/>
<line x1="193" y1="284.3" x2="195" y2="284.3" stroke="#333" stroke-width="0.9"/>
<line x1="193" y1="287.3" x2="195" y2="287.3" stroke="#333" stroke-width="0.9"/>
<line x1="193" y1="290.3" x2="195" y2="290.3" stroke="#333" stroke-width="0.9"/>
<line x1="193" y1="296.3" x2="195" y2="296.3" stroke="#333" stroke-width="0.9"/>
<line x1="193" y1="299.3" x2="195" y2="299.3" stroke="#333" stroke-width="0.9"/>
<line x1="193" y1="302.3" x2="195" y2="302.3" stroke="#333" stroke-width="0.9"/>
<line x1="193" y1="308.3" x2="195" y2="308.3" stroke="#333" stroke-width="0.9"/>
<line x1="193" y1="311.3" x2="195" y2="311.3" stroke="#333" stroke-width="0.9"/>
<line x1="193" y1="314.3" x2="195" y2="314.3" stroke="#333" stroke-width="0.9"/>
<line x1="209.1" y1="317.7" x2="209.1" y2="320.7" stroke="#222" stroke-width="1"/>
<text x="209.1" y="328.9" font-size="6.4" font-weight="normal" fill="#333" text-anchor="middle" >0</text>
<line x1="219.2" y1="317.7" x2="219.2" y2="320.7" stroke="#222" stroke-width="1"/>
<text x="220.2" y="328.9" font-size="6.4" font-weight="normal" fill="#333" text-anchor="middle" >10<tspan dy="-2.2" font-size="4.4">3</tspan></text>
<line x1="236.4" y1="317.7" x2="236.4" y2="320.7" stroke="#222" stroke-width="1"/>
<text x="237.4" y="328.9" font-size="6.4" font-weight="normal" fill="#333" text-anchor="middle" >10<tspan dy="-2.2" font-size="4.4">4</tspan></text>
<line x1="251.1" y1="317.7" x2="251.1" y2="320.7" stroke="#222" stroke-width="1"/>
<text x="252.1" y="328.9" font-size="6.4" font-weight="normal" fill="#333" text-anchor="middle" >10<tspan dy="-2.2" font-size="4.4">5</tspan></text>
<polygon points="211.0,317.7 211.0,317.5 213.0,314.0 214.3,313.2 216.0,315.0 222.0,315.6 225.8,315.3 229.0,304.0 232.3,289.1 234.8,272.8 238.0,266.2 239.5,271.0 241.3,281.8 243.5,290.0 245.4,297.3 247.8,310.4 251.1,316.9 251.1,317.7" fill="#b2bfe0" stroke="#42558f" stroke-width="0.7" stroke-linejoin="round"/>
<polygon points="211.0,317.7 211.0,317.5 213.0,314.0 214.3,313.2 216.0,315.0 220.0,313.6 222.0,306.0 224.1,294.0 226.0,280.0 227.4,267.9 229.9,262.7 232.0,269.5 234.0,287.5 236.0,300.0 238.0,310.4 242.1,316.9 242.1,317.7" fill="#f0a293" stroke="#9a3040" stroke-width="0.7" stroke-linejoin="round" style="mix-blend-mode:multiply"/>
<rect x="195" y="254.8" width="62" height="62.89999999999998" fill="none" stroke="#222" stroke-width="1.3"/>
<text x="226.3" y="250.8" font-size="8.6" font-weight="normal" fill="#222" text-anchor="middle" textLength="20.8" lengthAdjust="spacingAndGlyphs" >HSCT</text>
<text x="226.3" y="339.4" font-size="8.6" font-weight="bold" fill="#222" text-anchor="middle" textLength="25.3" lengthAdjust="spacingAndGlyphs" >CD86 FITC</text>
<rect x="198" y="259.4" width="5.4" height="5" fill="#c8102e"/>
<rect x="198" y="270.3" width="5.4" height="5" fill="#1f4e8c"/>
<text x="206.5" y="264.4" font-size="7.2" font-weight="normal" fill="#222" text-anchor="start" textLength="10.8" lengthAdjust="spacingAndGlyphs" >Ctrl</text>
<text x="206.5" y="275.3" font-size="7.2" font-weight="normal" fill="#222" text-anchor="start" textLength="16.2" lengthAdjust="spacingAndGlyphs" >PhAg</text>
<text transform="translate(175.9,287.45) rotate(-90)" x="0" y="0" font-size="7.8" font-weight="bold" fill="#333" text-anchor="middle" textLength="48.2" lengthAdjust="spacingAndGlyphs">Normalized to mode</text>
<line x1="447.6" y1="154.9" x2="450.6" y2="154.9" stroke="#222" stroke-width="1"/>
<text x="445.20000000000005" y="157.1" font-size="6.2" font-weight="normal" fill="#444" text-anchor="end" >100</text>
<line x1="447.6" y1="166.7" x2="450.6" y2="166.7" stroke="#222" stroke-width="1"/>
<text x="445.20000000000005" y="168.89999999999998" font-size="6.2" font-weight="normal" fill="#444" text-anchor="end" >80</text>
<line x1="447.6" y1="178.4" x2="450.6" y2="178.4" stroke="#222" stroke-width="1"/>
<text x="445.20000000000005" y="180.6" font-size="6.2" font-weight="normal" fill="#444" text-anchor="end" >60</text>
<line x1="447.6" y1="190.2" x2="450.6" y2="190.2" stroke="#222" stroke-width="1"/>
<text x="445.20000000000005" y="192.39999999999998" font-size="6.2" font-weight="normal" fill="#444" text-anchor="end" >40</text>
<line x1="447.6" y1="202" x2="450.6" y2="202" stroke="#222" stroke-width="1"/>
<text x="445.20000000000005" y="204.2" font-size="6.2" font-weight="normal" fill="#444" text-anchor="end" >20</text>
<line x1="447.6" y1="213.8" x2="450.6" y2="213.8" stroke="#222" stroke-width="1"/>
<text x="445.20000000000005" y="216.0" font-size="6.2" font-weight="normal" fill="#444" text-anchor="end" >0</text>
<line x1="448.6" y1="157.85" x2="450.6" y2="157.85" stroke="#333" stroke-width="0.9"/>
<line x1="448.6" y1="160.8" x2="450.6" y2="160.8" stroke="#333" stroke-width="0.9"/>
<line x1="448.6" y1="163.75" x2="450.6" y2="163.75" stroke="#333" stroke-width="0.9"/>
<line x1="448.6" y1="169.625" x2="450.6" y2="169.625" stroke="#333" stroke-width="0.9"/>
<line x1="448.6" y1="172.55" x2="450.6" y2="172.55" stroke="#333" stroke-width="0.9"/>
<line x1="448.6" y1="175.475" x2="450.6" y2="175.475" stroke="#333" stroke-width="0.9"/>
<line x1="448.6" y1="181.35" x2="450.6" y2="181.35" stroke="#333" stroke-width="0.9"/>
<line x1="448.6" y1="184.3" x2="450.6" y2="184.3" stroke="#333" stroke-width="0.9"/>
<line x1="448.6" y1="187.25" x2="450.6" y2="187.25" stroke="#333" stroke-width="0.9"/>
<line x1="448.6" y1="193.14999999999998" x2="450.6" y2="193.14999999999998" stroke="#333" stroke-width="0.9"/>
<line x1="448.6" y1="196.1" x2="450.6" y2="196.1" stroke="#333" stroke-width="0.9"/>
<line x1="448.6" y1="199.05" x2="450.6" y2="199.05" stroke="#333" stroke-width="0.9"/>
<line x1="448.6" y1="204.95" x2="450.6" y2="204.95" stroke="#333" stroke-width="0.9"/>
<line x1="448.6" y1="207.9" x2="450.6" y2="207.9" stroke="#333" stroke-width="0.9"/>
<line x1="448.6" y1="210.85000000000002" x2="450.6" y2="210.85000000000002" stroke="#333" stroke-width="0.9"/>
<line x1="464.2" y1="214.0" x2="464.2" y2="217.0" stroke="#222" stroke-width="1"/>
<text x="464.2" y="225.2" font-size="6.4" font-weight="normal" fill="#333" text-anchor="middle" >0</text>
<line x1="474.4" y1="214.0" x2="474.4" y2="217.0" stroke="#222" stroke-width="1"/>
<text x="475.4" y="225.2" font-size="6.4" font-weight="normal" fill="#333" text-anchor="middle" >10<tspan dy="-2.2" font-size="4.4">3</tspan></text>
<line x1="491.9" y1="214.0" x2="491.9" y2="217.0" stroke="#222" stroke-width="1"/>
<text x="492.9" y="225.2" font-size="6.4" font-weight="normal" fill="#333" text-anchor="middle" >10<tspan dy="-2.2" font-size="4.4">4</tspan></text>
<line x1="506.9" y1="214.0" x2="506.9" y2="217.0" stroke="#222" stroke-width="1"/>
<text x="507.9" y="225.2" font-size="6.4" font-weight="normal" fill="#333" text-anchor="middle" >10<tspan dy="-2.2" font-size="4.4">5</tspan></text>
<polygon points="463.7,214.0 463.7,213.5 464.4,197.6 465.8,205.0 468.5,207.6 472.7,210.3 476.9,209.2 481.2,209.8 486.4,210.3 491.7,209.2 494.9,205.0 498.1,196.5 500.7,186.0 501.8,175.4 503.4,162.7 504.4,156.9 505.5,159.5 506.5,171.2 507.6,184.9 508.7,197.6 510.2,205.0 511.8,211.3 511.8,214.0" fill="#b2bfe0" stroke="#42558f" stroke-width="0.7" stroke-linejoin="round"/>
<polygon points="463.7,214.0 463.7,213.5 464.4,192.3 465.3,194.4 465.8,203.9 467.4,206.1 470.6,207.6 473.7,209.2 475.9,208.7 479.6,205.5 482.2,203.9 485.4,199.7 487.5,194.4 489.1,187.0 489.6,181.7 491.7,181.2 492.8,168.0 493.8,170.6 495.4,165.9 496.5,167.5 497.5,168.0 498.6,172.2 500.2,178.6 500.7,190.2 501.8,195.5 502.8,202.9 504.4,206.1 507.6,207.6 510.2,209.2 511.8,212.4 511.8,214.0" fill="#f0a293" stroke="#9a3040" stroke-width="0.7" stroke-linejoin="round" style="mix-blend-mode:multiply"/>
<rect x="450.6" y="151.4" width="61.799999999999955" height="62.599999999999994" fill="none" stroke="#222" stroke-width="1.3"/>
<text x="481.2" y="148" font-size="8.6" font-weight="normal" fill="#222" text-anchor="middle" textLength="11.2" lengthAdjust="spacingAndGlyphs" >HD</text>
<text x="481.2" y="233.7" font-size="8.6" font-weight="bold" fill="#222" text-anchor="middle" textLength="31.4" lengthAdjust="spacingAndGlyphs" >HLA-DR APC</text>
<rect x="453.6" y="155.4" width="5.4" height="5" fill="#c8102e"/>
<rect x="453.6" y="166.7" width="5.4" height="5" fill="#1f4e8c"/>
<text x="462.1" y="160.4" font-size="7.2" font-weight="normal" fill="#222" text-anchor="start" textLength="10.8" lengthAdjust="spacingAndGlyphs" >Ctrl</text>
<text x="462.1" y="171.7" font-size="7.2" font-weight="normal" fill="#222" text-anchor="start" textLength="16.2" lengthAdjust="spacingAndGlyphs" >PhAg</text>
<text transform="translate(431.5,183.89999999999998) rotate(-90)" x="0" y="0" font-size="7.8" font-weight="bold" fill="#333" text-anchor="middle" textLength="48.2" lengthAdjust="spacingAndGlyphs">Normalized to mode</text>
<line x1="447.6" y1="259.2" x2="450.6" y2="259.2" stroke="#222" stroke-width="1"/>
<text x="445.20000000000005" y="261.4" font-size="6.2" font-weight="normal" fill="#444" text-anchor="end" >100</text>
<line x1="447.6" y1="271" x2="450.6" y2="271" stroke="#222" stroke-width="1"/>
<text x="445.20000000000005" y="273.2" font-size="6.2" font-weight="normal" fill="#444" text-anchor="end" >80</text>
<line x1="447.6" y1="282.6" x2="450.6" y2="282.6" stroke="#222" stroke-width="1"/>
<text x="445.20000000000005" y="284.8" font-size="6.2" font-weight="normal" fill="#444" text-anchor="end" >60</text>
<line x1="447.6" y1="294.2" x2="450.6" y2="294.2" stroke="#222" stroke-width="1"/>
<text x="445.20000000000005" y="296.4" font-size="6.2" font-weight="normal" fill="#444" text-anchor="end" >40</text>
<line x1="447.6" y1="306" x2="450.6" y2="306" stroke="#222" stroke-width="1"/>
<text x="445.20000000000005" y="308.2" font-size="6.2" font-weight="normal" fill="#444" text-anchor="end" >20</text>
<line x1="447.6" y1="317.7" x2="450.6" y2="317.7" stroke="#222" stroke-width="1"/>
<text x="445.20000000000005" y="319.9" font-size="6.2" font-weight="normal" fill="#444" text-anchor="end" >0</text>
<line x1="448.6" y1="262.15" x2="450.6" y2="262.15" stroke="#333" stroke-width="0.9"/>
<line x1="448.6" y1="265.1" x2="450.6" y2="265.1" stroke="#333" stroke-width="0.9"/>
<line x1="448.6" y1="268.05" x2="450.6" y2="268.05" stroke="#333" stroke-width="0.9"/>
<line x1="448.6" y1="273.9" x2="450.6" y2="273.9" stroke="#333" stroke-width="0.9"/>
<line x1="448.6" y1="276.8" x2="450.6" y2="276.8" stroke="#333" stroke-width="0.9"/>
<line x1="448.6" y1="279.70000000000005" x2="450.6" y2="279.70000000000005" stroke="#333" stroke-width="0.9"/>
<line x1="448.6" y1="285.5" x2="450.6" y2="285.5" stroke="#333" stroke-width="0.9"/>
<line x1="448.6" y1="288.4" x2="450.6" y2="288.4" stroke="#333" stroke-width="0.9"/>
<line x1="448.6" y1="291.3" x2="450.6" y2="291.3" stroke="#333" stroke-width="0.9"/>
<line x1="448.6" y1="297.15" x2="450.6" y2="297.15" stroke="#333" stroke-width="0.9"/>
<line x1="448.6" y1="300.1" x2="450.6" y2="300.1" stroke="#333" stroke-width="0.9"/>
<line x1="448.6" y1="303.05" x2="450.6" y2="303.05" stroke="#333" stroke-width="0.9"/>
<line x1="448.6" y1="308.925" x2="450.6" y2="308.925" stroke="#333" stroke-width="0.9"/>
<line x1="448.6" y1="311.85" x2="450.6" y2="311.85" stroke="#333" stroke-width="0.9"/>
<line x1="448.6" y1="314.775" x2="450.6" y2="314.775" stroke="#333" stroke-width="0.9"/>
<line x1="464.2" y1="317.7" x2="464.2" y2="320.7" stroke="#222" stroke-width="1"/>
<text x="464.2" y="328.9" font-size="6.4" font-weight="normal" fill="#333" text-anchor="middle" >0</text>
<line x1="474.4" y1="317.7" x2="474.4" y2="320.7" stroke="#222" stroke-width="1"/>
<text x="475.4" y="328.9" font-size="6.4" font-weight="normal" fill="#333" text-anchor="middle" >10<tspan dy="-2.2" font-size="4.4">3</tspan></text>
<line x1="491.9" y1="317.7" x2="491.9" y2="320.7" stroke="#222" stroke-width="1"/>
<text x="492.9" y="328.9" font-size="6.4" font-weight="normal" fill="#333" text-anchor="middle" >10<tspan dy="-2.2" font-size="4.4">4</tspan></text>
<line x1="506.9" y1="317.7" x2="506.9" y2="320.7" stroke="#222" stroke-width="1"/>
<text x="507.9" y="328.9" font-size="6.4" font-weight="normal" fill="#333" text-anchor="middle" >10<tspan dy="-2.2" font-size="4.4">5</tspan></text>
<polygon points="464.5,317.7 464.5,317.7 466.0,313.0 468.3,311.2 471.0,313.0 475.2,313.7 482.0,314.0 490.8,315.0 494.2,312.9 496.8,304.2 498.6,292.1 501.2,280.0 503.7,271.3 506.3,264.4 508.1,273.1 509.8,286.9 511.5,307.7 511.5,317.7" fill="#b2bfe0" stroke="#42558f" stroke-width="0.7" stroke-linejoin="round"/>
<polygon points="464.5,317.7 464.5,317.7 466.0,313.0 468.3,311.2 471.0,312.5 475.2,312.9 482.1,313.7 486.0,311.0 489.0,306.8 491.6,302.5 494.2,292.1 496.8,280.0 499.4,271.3 502.0,265.3 503.7,268.7 506.3,278.3 508.9,292.1 511.5,307.7 511.5,317.7" fill="#f0a293" stroke="#9a3040" stroke-width="0.7" stroke-linejoin="round" style="mix-blend-mode:multiply"/>
<rect x="450.6" y="256.6" width="61.799999999999955" height="61.099999999999966" fill="none" stroke="#222" stroke-width="1.3"/>
<text x="481.2" y="252.6" font-size="8.6" font-weight="normal" fill="#222" text-anchor="middle" textLength="20.8" lengthAdjust="spacingAndGlyphs" >HSCT</text>
<text x="481.2" y="339.2" font-size="8.6" font-weight="bold" fill="#222" text-anchor="middle" textLength="31.4" lengthAdjust="spacingAndGlyphs" >HLA-DR APC</text>
<rect x="453.6" y="261" width="5.4" height="5" fill="#c8102e"/>
<rect x="453.6" y="271.7" width="5.4" height="5" fill="#1f4e8c"/>
<text x="462.1" y="266" font-size="7.2" font-weight="normal" fill="#222" text-anchor="start" textLength="10.8" lengthAdjust="spacingAndGlyphs" >Ctrl</text>
<text x="462.1" y="276.7" font-size="7.2" font-weight="normal" fill="#222" text-anchor="start" textLength="16.2" lengthAdjust="spacingAndGlyphs" >PhAg</text>
<text transform="translate(431.5,288.34999999999997) rotate(-90)" x="0" y="0" font-size="7.8" font-weight="bold" fill="#333" text-anchor="middle" textLength="48.2" lengthAdjust="spacingAndGlyphs">Normalized to mode</text>
<line x1="191.4" y1="375.2" x2="194.4" y2="375.2" stroke="#222" stroke-width="1"/>
<text x="189.0" y="377.4" font-size="6.2" font-weight="normal" fill="#444" text-anchor="end" >100</text>
<line x1="191.4" y1="386.2" x2="194.4" y2="386.2" stroke="#222" stroke-width="1"/>
<text x="189.0" y="388.4" font-size="6.2" font-weight="normal" fill="#444" text-anchor="end" >80</text>
<line x1="191.4" y1="397.3" x2="194.4" y2="397.3" stroke="#222" stroke-width="1"/>
<text x="189.0" y="399.5" font-size="6.2" font-weight="normal" fill="#444" text-anchor="end" >60</text>
<line x1="191.4" y1="408.3" x2="194.4" y2="408.3" stroke="#222" stroke-width="1"/>
<text x="189.0" y="410.5" font-size="6.2" font-weight="normal" fill="#444" text-anchor="end" >40</text>
<line x1="191.4" y1="419.3" x2="194.4" y2="419.3" stroke="#222" stroke-width="1"/>
<text x="189.0" y="421.5" font-size="6.2" font-weight="normal" fill="#444" text-anchor="end" >20</text>
<line x1="191.4" y1="430.3" x2="194.4" y2="430.3" stroke="#222" stroke-width="1"/>
<text x="189.0" y="432.5" font-size="6.2" font-weight="normal" fill="#444" text-anchor="end" >0</text>
<line x1="192.4" y1="377.95" x2="194.4" y2="377.95" stroke="#333" stroke-width="0.9"/>
<line x1="192.4" y1="380.7" x2="194.4" y2="380.7" stroke="#333" stroke-width="0.9"/>
<line x1="192.4" y1="383.45" x2="194.4" y2="383.45" stroke="#333" stroke-width="0.9"/>
<line x1="192.4" y1="388.975" x2="194.4" y2="388.975" stroke="#333" stroke-width="0.9"/>
<line x1="192.4" y1="391.75" x2="194.4" y2="391.75" stroke="#333" stroke-width="0.9"/>
<line x1="192.4" y1="394.525" x2="194.4" y2="394.525" stroke="#333" stroke-width="0.9"/>
<line x1="192.4" y1="400.05" x2="194.4" y2="400.05" stroke="#333" stroke-width="0.9"/>
<line x1="192.4" y1="402.8" x2="194.4" y2="402.8" stroke="#333" stroke-width="0.9"/>
<line x1="192.4" y1="405.55" x2="194.4" y2="405.55" stroke="#333" stroke-width="0.9"/>
<line x1="192.4" y1="411.05" x2="194.4" y2="411.05" stroke="#333" stroke-width="0.9"/>
<line x1="192.4" y1="413.8" x2="194.4" y2="413.8" stroke="#333" stroke-width="0.9"/>
<line x1="192.4" y1="416.55" x2="194.4" y2="416.55" stroke="#333" stroke-width="0.9"/>
<line x1="192.4" y1="422.05" x2="194.4" y2="422.05" stroke="#333" stroke-width="0.9"/>
<line x1="192.4" y1="424.8" x2="194.4" y2="424.8" stroke="#333" stroke-width="0.9"/>
<line x1="192.4" y1="427.55" x2="194.4" y2="427.55" stroke="#333" stroke-width="0.9"/>
<line x1="208.7" y1="430.3" x2="208.7" y2="433.3" stroke="#222" stroke-width="1"/>
<text x="208.7" y="441.5" font-size="6.4" font-weight="normal" fill="#333" text-anchor="middle" >0</text>
<line x1="219.1" y1="430.3" x2="219.1" y2="433.3" stroke="#222" stroke-width="1"/>
<text x="220.1" y="441.5" font-size="6.4" font-weight="normal" fill="#333" text-anchor="middle" >10<tspan dy="-2.2" font-size="4.4">3</tspan></text>
<line x1="236.4" y1="430.3" x2="236.4" y2="433.3" stroke="#222" stroke-width="1"/>
<text x="237.4" y="441.5" font-size="6.4" font-weight="normal" fill="#333" text-anchor="middle" >10<tspan dy="-2.2" font-size="4.4">4</tspan></text>
<line x1="251.2" y1="430.3" x2="251.2" y2="433.3" stroke="#222" stroke-width="1"/>
<text x="252.2" y="441.5" font-size="6.4" font-weight="normal" fill="#333" text-anchor="middle" >10<tspan dy="-2.2" font-size="4.4">5</tspan></text>
<polygon points="208.8,430.3 208.8,430.0 210.6,402.5 211.9,382.5 213.8,401.2 215.6,417.5 216.9,423.8 218.8,425.0 220.6,425.0 221.9,428.1 224.4,429.4 228.8,429.8 228.8,430.3" fill="#b2bfe0" stroke="#42558f" stroke-width="0.7" stroke-linejoin="round"/>
<polygon points="208.8,430.3 208.8,430.0 210.6,401.2 211.9,381.2 213.1,401.2 214.4,422.5 215.6,429.8 215.6,430.3" fill="#f0a293" stroke="#9a3040" stroke-width="0.7" stroke-linejoin="round" style="mix-blend-mode:multiply"/>
<rect x="194.4" y="373" width="63.29999999999998" height="57.30000000000001" fill="none" stroke="#222" stroke-width="1.3"/>
<text x="226.6" y="369.2" font-size="8.6" font-weight="normal" fill="#222" text-anchor="middle" textLength="11.2" lengthAdjust="spacingAndGlyphs" >HD</text>
<text x="226.6" y="451.9" font-size="8.6" font-weight="bold" fill="#222" text-anchor="middle" textLength="25.3" lengthAdjust="spacingAndGlyphs" >CD86 FITC</text>
<rect x="229.4" y="377.4" width="5.4" height="5" fill="#c8102e"/>
<rect x="229.4" y="388" width="5.4" height="5" fill="#1f4e8c"/>
<text x="237.9" y="382.4" font-size="7.2" font-weight="normal" fill="#222" text-anchor="start" textLength="10.8" lengthAdjust="spacingAndGlyphs" >Ctrl</text>
<text x="237.9" y="393" font-size="7.2" font-weight="normal" fill="#222" text-anchor="start" textLength="16.2" lengthAdjust="spacingAndGlyphs" >PhAg</text>
<text transform="translate(175.3,402.84999999999997) rotate(-90)" x="0" y="0" font-size="7.8" font-weight="bold" fill="#333" text-anchor="middle" textLength="48.2" lengthAdjust="spacingAndGlyphs">Normalized to mode</text>
<line x1="191.4" y1="474.7" x2="194.4" y2="474.7" stroke="#222" stroke-width="1"/>
<text x="189.0" y="476.9" font-size="6.2" font-weight="normal" fill="#444" text-anchor="end" >100</text>
<line x1="191.4" y1="486.3" x2="194.4" y2="486.3" stroke="#222" stroke-width="1"/>
<text x="189.0" y="488.5" font-size="6.2" font-weight="normal" fill="#444" text-anchor="end" >80</text>
<line x1="191.4" y1="497.7" x2="194.4" y2="497.7" stroke="#222" stroke-width="1"/>
<text x="189.0" y="499.9" font-size="6.2" font-weight="normal" fill="#444" text-anchor="end" >60</text>
<line x1="191.4" y1="509.3" x2="194.4" y2="509.3" stroke="#222" stroke-width="1"/>
<text x="189.0" y="511.5" font-size="6.2" font-weight="normal" fill="#444" text-anchor="end" >40</text>
<line x1="191.4" y1="520.9" x2="194.4" y2="520.9" stroke="#222" stroke-width="1"/>
<text x="189.0" y="523.1" font-size="6.2" font-weight="normal" fill="#444" text-anchor="end" >20</text>
<line x1="191.4" y1="532.3" x2="194.4" y2="532.3" stroke="#222" stroke-width="1"/>
<text x="189.0" y="534.5" font-size="6.2" font-weight="normal" fill="#444" text-anchor="end" >0</text>
<line x1="192.4" y1="477.6" x2="194.4" y2="477.6" stroke="#333" stroke-width="0.9"/>
<line x1="192.4" y1="480.5" x2="194.4" y2="480.5" stroke="#333" stroke-width="0.9"/>
<line x1="192.4" y1="483.4" x2="194.4" y2="483.4" stroke="#333" stroke-width="0.9"/>
<line x1="192.4" y1="489.15" x2="194.4" y2="489.15" stroke="#333" stroke-width="0.9"/>
<line x1="192.4" y1="492.0" x2="194.4" y2="492.0" stroke="#333" stroke-width="0.9"/>
<line x1="192.4" y1="494.85" x2="194.4" y2="494.85" stroke="#333" stroke-width="0.9"/>
<line x1="192.4" y1="500.6" x2="194.4" y2="500.6" stroke="#333" stroke-width="0.9"/>
<line x1="192.4" y1="503.5" x2="194.4" y2="503.5" stroke="#333" stroke-width="0.9"/>
<line x1="192.4" y1="506.4" x2="194.4" y2="506.4" stroke="#333" stroke-width="0.9"/>
<line x1="192.4" y1="512.2" x2="194.4" y2="512.2" stroke="#333" stroke-width="0.9"/>
<line x1="192.4" y1="515.1" x2="194.4" y2="515.1" stroke="#333" stroke-width="0.9"/>
<line x1="192.4" y1="518.0" x2="194.4" y2="518.0" stroke="#333" stroke-width="0.9"/>
<line x1="192.4" y1="523.75" x2="194.4" y2="523.75" stroke="#333" stroke-width="0.9"/>
<line x1="192.4" y1="526.5999999999999" x2="194.4" y2="526.5999999999999" stroke="#333" stroke-width="0.9"/>
<line x1="192.4" y1="529.4499999999999" x2="194.4" y2="529.4499999999999" stroke="#333" stroke-width="0.9"/>
<line x1="208.7" y1="532.3" x2="208.7" y2="535.3" stroke="#222" stroke-width="1"/>
<text x="208.7" y="543.5" font-size="6.4" font-weight="normal" fill="#333" text-anchor="middle" >0</text>
<line x1="219.1" y1="532.3" x2="219.1" y2="535.3" stroke="#222" stroke-width="1"/>
<text x="220.1" y="543.5" font-size="6.4" font-weight="normal" fill="#333" text-anchor="middle" >10<tspan dy="-2.2" font-size="4.4">3</tspan></text>
<line x1="236.4" y1="532.3" x2="236.4" y2="535.3" stroke="#222" stroke-width="1"/>
<text x="237.4" y="543.5" font-size="6.4" font-weight="normal" fill="#333" text-anchor="middle" >10<tspan dy="-2.2" font-size="4.4">4</tspan></text>
<line x1="251.2" y1="532.3" x2="251.2" y2="535.3" stroke="#222" stroke-width="1"/>
<text x="252.2" y="543.5" font-size="6.4" font-weight="normal" fill="#333" text-anchor="middle" >10<tspan dy="-2.2" font-size="4.4">5</tspan></text>
<polygon points="208.1,532.3 208.1,531.9 210.0,511.2 211.2,501.2 212.5,516.2 214.4,522.5 216.2,521.2 217.9,520.0 219.4,525.0 221.2,528.8 223.1,527.5 225.0,529.4 227.5,531.2 230.0,530.6 232.5,531.5 235.0,531.9 235.0,532.3" fill="#b2bfe0" stroke="#42558f" stroke-width="0.7" stroke-linejoin="round"/>
<polygon points="208.1,532.3 208.1,531.9 209.8,507.5 210.6,493.8 211.5,503.8 212.5,520.0 213.8,525.0 216.2,528.8 220.0,530.0 223.8,531.2 227.5,531.9 227.5,532.3" fill="#f0a293" stroke="#9a3040" stroke-width="0.7" stroke-linejoin="round" style="mix-blend-mode:multiply"/>
<rect x="194.4" y="472.1" width="63.29999999999998" height="60.19999999999993" fill="none" stroke="#222" stroke-width="1.3"/>
<text x="226" y="467.5" font-size="8.6" font-weight="normal" fill="#222" text-anchor="middle" textLength="20.8" lengthAdjust="spacingAndGlyphs" >HSCT</text>
<text x="226" y="553.7" font-size="8.6" font-weight="bold" fill="#222" text-anchor="middle" textLength="25.3" lengthAdjust="spacingAndGlyphs" >CD86 FITC</text>
<rect x="229.5" y="476.4" width="5.4" height="5" fill="#c8102e"/>
<rect x="229.5" y="486.8" width="5.4" height="5" fill="#1f4e8c"/>
<text x="238.0" y="481.4" font-size="7.2" font-weight="normal" fill="#222" text-anchor="start" textLength="10.8" lengthAdjust="spacingAndGlyphs" >Ctrl</text>
<text x="238.0" y="491.8" font-size="7.2" font-weight="normal" fill="#222" text-anchor="start" textLength="16.2" lengthAdjust="spacingAndGlyphs" >PhAg</text>
<text transform="translate(175.3,503.4) rotate(-90)" x="0" y="0" font-size="7.8" font-weight="bold" fill="#333" text-anchor="middle" textLength="48.2" lengthAdjust="spacingAndGlyphs">Normalized to mode</text>
<line x1="447.3" y1="371.3" x2="450.3" y2="371.3" stroke="#222" stroke-width="1"/>
<text x="444.90000000000003" y="373.5" font-size="6.2" font-weight="normal" fill="#444" text-anchor="end" >100</text>
<line x1="447.3" y1="383.1" x2="450.3" y2="383.1" stroke="#222" stroke-width="1"/>
<text x="444.90000000000003" y="385.3" font-size="6.2" font-weight="normal" fill="#444" text-anchor="end" >80</text>
<line x1="447.3" y1="394.7" x2="450.3" y2="394.7" stroke="#222" stroke-width="1"/>
<text x="444.90000000000003" y="396.9" font-size="6.2" font-weight="normal" fill="#444" text-anchor="end" >60</text>
<line x1="447.3" y1="406.3" x2="450.3" y2="406.3" stroke="#222" stroke-width="1"/>
<text x="444.90000000000003" y="408.5" font-size="6.2" font-weight="normal" fill="#444" text-anchor="end" >40</text>
<line x1="447.3" y1="418.1" x2="450.3" y2="418.1" stroke="#222" stroke-width="1"/>
<text x="444.90000000000003" y="420.3" font-size="6.2" font-weight="normal" fill="#444" text-anchor="end" >20</text>
<line x1="447.3" y1="429.8" x2="450.3" y2="429.8" stroke="#222" stroke-width="1"/>
<text x="444.90000000000003" y="432.0" font-size="6.2" font-weight="normal" fill="#444" text-anchor="end" >0</text>
<line x1="448.3" y1="374.25" x2="450.3" y2="374.25" stroke="#333" stroke-width="0.9"/>
<line x1="448.3" y1="377.20000000000005" x2="450.3" y2="377.20000000000005" stroke="#333" stroke-width="0.9"/>
<line x1="448.3" y1="380.15000000000003" x2="450.3" y2="380.15000000000003" stroke="#333" stroke-width="0.9"/>
<line x1="448.3" y1="386.0" x2="450.3" y2="386.0" stroke="#333" stroke-width="0.9"/>
<line x1="448.3" y1="388.9" x2="450.3" y2="388.9" stroke="#333" stroke-width="0.9"/>
<line x1="448.3" y1="391.8" x2="450.3" y2="391.8" stroke="#333" stroke-width="0.9"/>
<line x1="448.3" y1="397.6" x2="450.3" y2="397.6" stroke="#333" stroke-width="0.9"/>
<line x1="448.3" y1="400.5" x2="450.3" y2="400.5" stroke="#333" stroke-width="0.9"/>
<line x1="448.3" y1="403.4" x2="450.3" y2="403.4" stroke="#333" stroke-width="0.9"/>
<line x1="448.3" y1="409.25" x2="450.3" y2="409.25" stroke="#333" stroke-width="0.9"/>
<line x1="448.3" y1="412.20000000000005" x2="450.3" y2="412.20000000000005" stroke="#333" stroke-width="0.9"/>
<line x1="448.3" y1="415.15000000000003" x2="450.3" y2="415.15000000000003" stroke="#333" stroke-width="0.9"/>
<line x1="448.3" y1="421.02500000000003" x2="450.3" y2="421.02500000000003" stroke="#333" stroke-width="0.9"/>
<line x1="448.3" y1="423.95000000000005" x2="450.3" y2="423.95000000000005" stroke="#333" stroke-width="0.9"/>
<line x1="448.3" y1="426.875" x2="450.3" y2="426.875" stroke="#333" stroke-width="0.9"/>
<line x1="464.2" y1="430.5" x2="464.2" y2="433.5" stroke="#222" stroke-width="1"/>
<text x="464.2" y="441.7" font-size="6.4" font-weight="normal" fill="#333" text-anchor="middle" >0</text>
<line x1="474.4" y1="430.5" x2="474.4" y2="433.5" stroke="#222" stroke-width="1"/>
<text x="475.4" y="441.7" font-size="6.4" font-weight="normal" fill="#333" text-anchor="middle" >10<tspan dy="-2.2" font-size="4.4">3</tspan></text>
<line x1="491.9" y1="430.5" x2="491.9" y2="433.5" stroke="#222" stroke-width="1"/>
<text x="492.9" y="441.7" font-size="6.4" font-weight="normal" fill="#333" text-anchor="middle" >10<tspan dy="-2.2" font-size="4.4">4</tspan></text>
<line x1="506.9" y1="430.5" x2="506.9" y2="433.5" stroke="#222" stroke-width="1"/>
<text x="507.9" y="441.7" font-size="6.4" font-weight="normal" fill="#333" text-anchor="middle" >10<tspan dy="-2.2" font-size="4.4">5</tspan></text>
<polygon points="462.5,430.5 462.5,430.0 464.0,415.0 465.2,402.5 466.9,400.0 468.8,398.1 470.0,405.0 471.9,412.5 473.8,410.0 475.6,416.2 478.1,420.0 480.6,423.1 483.1,426.2 486.2,428.8 490.0,430.0 493.8,429.6 496.2,430.0 496.2,430.5" fill="#b2bfe0" stroke="#42558f" stroke-width="0.7" stroke-linejoin="round"/>
<polygon points="462.2,430.5 462.2,430.0 463.5,402.5 464.6,381.2 465.6,397.5 466.9,417.5 468.1,426.2 469.4,429.8 469.4,430.5" fill="#f0a293" stroke="#9a3040" stroke-width="0.7" stroke-linejoin="round" style="mix-blend-mode:multiply"/>
<rect x="450.3" y="368.6" width="62.30000000000001" height="61.89999999999998" fill="none" stroke="#222" stroke-width="1.3"/>
<text x="481.2" y="364.8" font-size="8.6" font-weight="normal" fill="#222" text-anchor="middle" textLength="11.2" lengthAdjust="spacingAndGlyphs" >HD</text>
<text x="481.2" y="451.9" font-size="8.6" font-weight="bold" fill="#222" text-anchor="middle" textLength="31.4" lengthAdjust="spacingAndGlyphs" >HLA-DR APC</text>
<rect x="484.7" y="373.1" width="5.4" height="5" fill="#c8102e"/>
<rect x="484.7" y="384" width="5.4" height="5" fill="#1f4e8c"/>
<text x="493.2" y="378.1" font-size="7.2" font-weight="normal" fill="#222" text-anchor="start" textLength="10.8" lengthAdjust="spacingAndGlyphs" >Ctrl</text>
<text x="493.2" y="389" font-size="7.2" font-weight="normal" fill="#222" text-anchor="start" textLength="16.2" lengthAdjust="spacingAndGlyphs" >PhAg</text>
<text transform="translate(431.2,400.75) rotate(-90)" x="0" y="0" font-size="7.8" font-weight="bold" fill="#333" text-anchor="middle" textLength="48.2" lengthAdjust="spacingAndGlyphs">Normalized to mode</text>
<line x1="447.3" y1="473.4" x2="450.3" y2="473.4" stroke="#222" stroke-width="1"/>
<text x="444.90000000000003" y="475.59999999999997" font-size="6.2" font-weight="normal" fill="#444" text-anchor="end" >100</text>
<line x1="447.3" y1="485.3" x2="450.3" y2="485.3" stroke="#222" stroke-width="1"/>
<text x="444.90000000000003" y="487.5" font-size="6.2" font-weight="normal" fill="#444" text-anchor="end" >80</text>
<line x1="447.3" y1="496.8" x2="450.3" y2="496.8" stroke="#222" stroke-width="1"/>
<text x="444.90000000000003" y="499.0" font-size="6.2" font-weight="normal" fill="#444" text-anchor="end" >60</text>
<line x1="447.3" y1="508.7" x2="450.3" y2="508.7" stroke="#222" stroke-width="1"/>
<text x="444.90000000000003" y="510.9" font-size="6.2" font-weight="normal" fill="#444" text-anchor="end" >40</text>
<line x1="447.3" y1="520.5" x2="450.3" y2="520.5" stroke="#222" stroke-width="1"/>
<text x="444.90000000000003" y="522.7" font-size="6.2" font-weight="normal" fill="#444" text-anchor="end" >20</text>
<line x1="447.3" y1="532.2" x2="450.3" y2="532.2" stroke="#222" stroke-width="1"/>
<text x="444.90000000000003" y="534.4000000000001" font-size="6.2" font-weight="normal" fill="#444" text-anchor="end" >0</text>
<line x1="448.3" y1="476.375" x2="450.3" y2="476.375" stroke="#333" stroke-width="0.9"/>
<line x1="448.3" y1="479.35" x2="450.3" y2="479.35" stroke="#333" stroke-width="0.9"/>
<line x1="448.3" y1="482.325" x2="450.3" y2="482.325" stroke="#333" stroke-width="0.9"/>
<line x1="448.3" y1="488.175" x2="450.3" y2="488.175" stroke="#333" stroke-width="0.9"/>
<line x1="448.3" y1="491.05" x2="450.3" y2="491.05" stroke="#333" stroke-width="0.9"/>
<line x1="448.3" y1="493.925" x2="450.3" y2="493.925" stroke="#333" stroke-width="0.9"/>
<line x1="448.3" y1="499.775" x2="450.3" y2="499.775" stroke="#333" stroke-width="0.9"/>
<line x1="448.3" y1="502.75" x2="450.3" y2="502.75" stroke="#333" stroke-width="0.9"/>
<line x1="448.3" y1="505.725" x2="450.3" y2="505.725" stroke="#333" stroke-width="0.9"/>
<line x1="448.3" y1="511.65" x2="450.3" y2="511.65" stroke="#333" stroke-width="0.9"/>
<line x1="448.3" y1="514.6" x2="450.3" y2="514.6" stroke="#333" stroke-width="0.9"/>
<line x1="448.3" y1="517.55" x2="450.3" y2="517.55" stroke="#333" stroke-width="0.9"/>
<line x1="448.3" y1="523.425" x2="450.3" y2="523.425" stroke="#333" stroke-width="0.9"/>
<line x1="448.3" y1="526.35" x2="450.3" y2="526.35" stroke="#333" stroke-width="0.9"/>
<line x1="448.3" y1="529.2750000000001" x2="450.3" y2="529.2750000000001" stroke="#333" stroke-width="0.9"/>
<line x1="464.2" y1="532.6" x2="464.2" y2="535.6" stroke="#222" stroke-width="1"/>
<text x="464.2" y="543.8000000000001" font-size="6.4" font-weight="normal" fill="#333" text-anchor="middle" >0</text>
<line x1="474.4" y1="532.6" x2="474.4" y2="535.6" stroke="#222" stroke-width="1"/>
<text x="475.4" y="543.8000000000001" font-size="6.4" font-weight="normal" fill="#333" text-anchor="middle" >10<tspan dy="-2.2" font-size="4.4">3</tspan></text>
<line x1="491.9" y1="532.6" x2="491.9" y2="535.6" stroke="#222" stroke-width="1"/>
<text x="492.9" y="543.8000000000001" font-size="6.4" font-weight="normal" fill="#333" text-anchor="middle" >10<tspan dy="-2.2" font-size="4.4">4</tspan></text>
<line x1="506.9" y1="532.6" x2="506.9" y2="535.6" stroke="#222" stroke-width="1"/>
<text x="507.9" y="543.8000000000001" font-size="6.4" font-weight="normal" fill="#333" text-anchor="middle" >10<tspan dy="-2.2" font-size="4.4">5</tspan></text>
<polygon points="463.1,532.6 463.1,532.0 464.2,505.0 465.3,483.3 467.4,509.2 470.0,516.1 474.3,520.5 478.7,525.7 483.0,530.0 488.2,532.0 488.2,532.6" fill="#b2bfe0" stroke="#42558f" stroke-width="0.7" stroke-linejoin="round"/>
<polygon points="463.1,532.6 463.1,532.0 464.2,500.0 465.3,478.9 466.5,502.3 469.1,516.1 472.6,524.8 476.9,529.1 482.1,532.0 482.1,532.6" fill="#f0a293" stroke="#9a3040" stroke-width="0.7" stroke-linejoin="round" style="mix-blend-mode:multiply"/>
<rect x="450.3" y="470.8" width="62.30000000000001" height="61.80000000000001" fill="none" stroke="#222" stroke-width="1.3"/>
<text x="481.2" y="466.4" font-size="8.6" font-weight="normal" fill="#222" text-anchor="middle" textLength="20.8" lengthAdjust="spacingAndGlyphs" >HSCT</text>
<text x="481.2" y="553.7" font-size="8.6" font-weight="bold" fill="#222" text-anchor="middle" textLength="31.4" lengthAdjust="spacingAndGlyphs" >HLA-DR APC</text>
<rect x="484.7" y="475.5" width="5.4" height="5" fill="#c8102e"/>
<rect x="484.7" y="485.9" width="5.4" height="5" fill="#1f4e8c"/>
<text x="493.2" y="480.5" font-size="7.2" font-weight="normal" fill="#222" text-anchor="start" textLength="10.8" lengthAdjust="spacingAndGlyphs" >Ctrl</text>
<text x="493.2" y="490.9" font-size="7.2" font-weight="normal" fill="#222" text-anchor="start" textLength="16.2" lengthAdjust="spacingAndGlyphs" >PhAg</text>
<text transform="translate(431.2,502.90000000000003) rotate(-90)" x="0" y="0" font-size="7.8" font-weight="bold" fill="#333" text-anchor="middle" textLength="48.2" lengthAdjust="spacingAndGlyphs">Normalized to mode</text>
<text x="67" y="583" font-size="11.5" font-weight="bold" fill="#111" text-anchor="start" textLength="8" lengthAdjust="spacingAndGlyphs" >D</text>
<text x="8" y="146.3" font-size="11.8" font-weight="bold" fill="#111" text-anchor="start" textLength="8.1" lengthAdjust="spacingAndGlyphs" >B</text>
<text x="7.5" y="368.8" font-size="11.8" font-weight="bold" fill="#111" text-anchor="start" textLength="8.2" lengthAdjust="spacingAndGlyphs" >C</text>
<line x1="123.3" y1="574.8" x2="123.3" y2="677.3000000000001" stroke="#222" stroke-width="1.2"/>
<line x1="122.7" y1="676.7" x2="223.3" y2="676.7" stroke="#222" stroke-width="1.2"/>
<line x1="120.1" y1="578.3" x2="123.3" y2="578.3" stroke="#222" stroke-width="1"/>
<text x="116.7" y="580.6999999999999" font-size="7.1" font-weight="normal" fill="#333" text-anchor="end" >0.05</text>
<line x1="120.1" y1="597.8" x2="123.3" y2="597.8" stroke="#222" stroke-width="1"/>
<text x="116.7" y="600.1999999999999" font-size="7.1" font-weight="normal" fill="#333" text-anchor="end" >0.04</text>
<line x1="120.1" y1="617.4" x2="123.3" y2="617.4" stroke="#222" stroke-width="1"/>
<text x="116.7" y="619.8" font-size="7.1" font-weight="normal" fill="#333" text-anchor="end" >0.03</text>
<line x1="120.1" y1="637.0" x2="123.3" y2="637.0" stroke="#222" stroke-width="1"/>
<text x="116.7" y="639.4" font-size="7.1" font-weight="normal" fill="#333" text-anchor="end" >0.02</text>
<line x1="120.1" y1="656.6" x2="123.3" y2="656.6" stroke="#222" stroke-width="1"/>
<text x="116.7" y="659.0" font-size="7.1" font-weight="normal" fill="#333" text-anchor="end" >0.01</text>
<line x1="120.1" y1="676.3" x2="123.3" y2="676.3" stroke="#222" stroke-width="1"/>
<text x="116.7" y="678.6999999999999" font-size="7.1" font-weight="normal" fill="#333" text-anchor="end" >0.00</text>
<line x1="161.6" y1="676.7" x2="161.6" y2="680.2" stroke="#333" stroke-width="1"/>
<line x1="161.6" y1="607.7" x2="161.6" y2="623.3" stroke="#333" stroke-width="1"/>
<line x1="158.1" y1="607.7" x2="165.1" y2="607.7" stroke="#333" stroke-width="1.1"/>
<line x1="161.6" y1="657.7" x2="161.6" y2="673.9" stroke="#333" stroke-width="1"/>
<line x1="158.1" y1="673.9" x2="165.1" y2="673.9" stroke="#333" stroke-width="1.1"/>
<rect x="154.2" y="623.3" width="14.8" height="34.40000000000009" fill="#f39322"/>
<line x1="154.2" y1="640.8" x2="169.0" y2="640.8" stroke="#1d1d1d" stroke-width="1.3"/>
<line x1="207.2" y1="676.7" x2="207.2" y2="680.2" stroke="#333" stroke-width="1"/>
<line x1="207.2" y1="595.8" x2="207.2" y2="601.7" stroke="#333" stroke-width="1"/>
<line x1="203.7" y1="595.8" x2="210.7" y2="595.8" stroke="#333" stroke-width="1.1"/>
<line x1="207.2" y1="627.3" x2="207.2" y2="653.4" stroke="#333" stroke-width="1"/>
<line x1="203.7" y1="653.4" x2="210.7" y2="653.4" stroke="#333" stroke-width="1.1"/>
<rect x="199.79999999999998" y="601.7" width="14.8" height="25.59999999999991" fill="#35a8e0"/>
<line x1="199.79999999999998" y1="604.4" x2="214.6" y2="604.4" stroke="#1d1d1d" stroke-width="1.3"/>
<line x1="135.2" y1="603.1" x2="154" y2="603.1" stroke="#333" stroke-width="1.1"/>
<text x="144.6" y="602.2" font-size="6.5" font-weight="normal" fill="#333" text-anchor="middle" >****</text>
<line x1="158.1" y1="577.5" x2="206.5" y2="577.5" stroke="#333" stroke-width="1.1"/>
<text x="182.3" y="576.5" font-size="6.5" font-weight="normal" fill="#333" text-anchor="middle" >**</text>
<line x1="189.9" y1="590.2" x2="206.5" y2="590.2" stroke="#333" stroke-width="1.1"/>
<text x="198.2" y="589.3" font-size="6.5" font-weight="normal" fill="#333" text-anchor="middle" >****</text>
<line x1="130.9" y1="675" x2="146" y2="675" stroke="#111" stroke-width="2.2"/>
<line x1="176.9" y1="675" x2="191.7" y2="675" stroke="#111" stroke-width="2.2"/>
<line x1="138.5" y1="676.7" x2="138.5" y2="680" stroke="#333" stroke-width="1"/>
<line x1="184.3" y1="676.7" x2="184.3" y2="680" stroke="#333" stroke-width="1"/>
<text x="94" y="689.3" font-size="7.0" font-weight="normal" fill="#222" text-anchor="start" textLength="32.3" lengthAdjust="spacingAndGlyphs" >CMV-pp65</text>
<text x="102.1" y="700.2" font-size="7.0" font-weight="normal" fill="#222" text-anchor="start" textLength="16.2" lengthAdjust="spacingAndGlyphs" >PhAg</text>
<line x1="136.2" y1="686.9" x2="140.2" y2="686.9" stroke="#444" stroke-width="0.9"/>
<line x1="136.2" y1="697.7" x2="140.2" y2="697.7" stroke="#444" stroke-width="0.9"/>
<line x1="159.5" y1="686.9" x2="163.5" y2="686.9" stroke="#444" stroke-width="0.9"/>
<line x1="161.5" y1="684.9" x2="161.5" y2="688.9" stroke="#444" stroke-width="0.9"/>
<line x1="159.5" y1="697.7" x2="163.5" y2="697.7" stroke="#444" stroke-width="0.9"/>
<line x1="182.3" y1="686.9" x2="186.3" y2="686.9" stroke="#444" stroke-width="0.9"/>
<line x1="182.3" y1="697.7" x2="186.3" y2="697.7" stroke="#444" stroke-width="0.9"/>
<line x1="184.3" y1="695.7" x2="184.3" y2="699.7" stroke="#444" stroke-width="0.9"/>
<line x1="205.1" y1="686.9" x2="209.1" y2="686.9" stroke="#444" stroke-width="0.9"/>
<line x1="207.1" y1="684.9" x2="207.1" y2="688.9" stroke="#444" stroke-width="0.9"/>
<line x1="205.1" y1="697.7" x2="209.1" y2="697.7" stroke="#444" stroke-width="0.9"/>
<line x1="207.1" y1="695.7" x2="207.1" y2="699.7" stroke="#444" stroke-width="0.9"/>
<text transform="translate(86.6,626.2) rotate(-90)" x="0" y="0" font-size="8.4" font-weight="normal" fill="#1e1e1e" text-anchor="middle" textLength="50.7" lengthAdjust="spacingAndGlyphs">%IFN-&#947;+TNF-&#945;+</text>
<text transform="translate(97.2,624.5) rotate(-90)" x="0" y="0" font-size="8.4" font-weight="normal" fill="#1e1e1e" text-anchor="middle" textLength="58.7" lengthAdjust="spacingAndGlyphs">producing &#945;&#946; T cells</text>
<rect x="269.8" y="589.3" width="77.89999999999998" height="78.40000000000009" fill="none" stroke="#777" stroke-width="0.8"/>
<line x1="267.3" y1="597.5" x2="269.8" y2="597.5" stroke="#333" stroke-width="0.8"/>
<text x="265" y="599.7" font-size="6.2" font-weight="normal" fill="#333" text-anchor="end" >10<tspan dy="-2" font-size="4">5</tspan></text>
<line x1="267.3" y1="616" x2="269.8" y2="616" stroke="#333" stroke-width="0.8"/>
<text x="265" y="618.2" font-size="6.2" font-weight="normal" fill="#333" text-anchor="end" >10<tspan dy="-2" font-size="4">4</tspan></text>
<line x1="267.3" y1="636.5" x2="269.8" y2="636.5" stroke="#333" stroke-width="0.8"/>
<text x="265" y="638.7" font-size="6.2" font-weight="normal" fill="#333" text-anchor="end" >10<tspan dy="-2" font-size="4">3</tspan></text>
<line x1="267.3" y1="652.2" x2="269.8" y2="652.2" stroke="#333" stroke-width="0.8"/>
<text x="265" y="654.4000000000001" font-size="6.2" font-weight="normal" fill="#333" text-anchor="end" >0</text>
<line x1="270.4" y1="667.7" x2="270.4" y2="670.2" stroke="#333" stroke-width="0.8"/>
<text x="272" y="680.8" font-size="6.2" font-weight="normal" fill="#333" text-anchor="middle" >&#8722;10<tspan dy="-2" font-size="4">3</tspan></text>
<line x1="286.8" y1="667.7" x2="286.8" y2="670.2" stroke="#333" stroke-width="0.8"/>
<text x="286.8" y="680.8" font-size="6.2" font-weight="normal" fill="#333" text-anchor="middle" >0</text>
<line x1="302.4" y1="667.7" x2="302.4" y2="670.2" stroke="#333" stroke-width="0.8"/>
<text x="304" y="680.8" font-size="6.2" font-weight="normal" fill="#333" text-anchor="middle" >10<tspan dy="-2" font-size="4">3</tspan></text>
<line x1="322.9" y1="667.7" x2="322.9" y2="670.2" stroke="#333" stroke-width="0.8"/>
<text x="324.5" y="680.8" font-size="6.2" font-weight="normal" fill="#333" text-anchor="middle" >10<tspan dy="-2" font-size="4">4</tspan></text>
<line x1="340.4" y1="667.7" x2="340.4" y2="670.2" stroke="#333" stroke-width="0.8"/>
<text x="342" y="680.8" font-size="6.2" font-weight="normal" fill="#333" text-anchor="middle" >10<tspan dy="-2" font-size="4">5</tspan></text>
<rect x="287.4" y="620.6999999999999" width="1.3" height="1.3" fill="#1c1c7a"/>
<rect x="290.0" y="621.6" width="1.3" height="1.3" fill="#1c1c7a"/>
<rect x="292.59999999999997" y="620.6999999999999" width="1.3" height="1.3" fill="#1c1c7a"/>
<rect x="288.2" y="625.1" width="1.3" height="1.3" fill="#1c1c7a"/>
<rect x="291.7" y="626.8" width="1.3" height="1.3" fill="#1c1c7a"/>
<rect x="298.59999999999997" y="625.1" width="1.3" height="1.3" fill="#1c1c7a"/>
<rect x="298.59999999999997" y="629.1" width="1.3" height="1.3" fill="#1c1c7a"/>
<rect x="302.59999999999997" y="627.3" width="1.3" height="1.3" fill="#1c1c7a"/>
<rect x="307.29999999999995" y="629.1" width="1.3" height="1.3" fill="#1c1c7a"/>
<rect x="309.0" y="621.6" width="1.3" height="1.3" fill="#1c1c7a"/>
<rect x="312.5" y="617.3" width="1.3" height="1.3" fill="#1c1c7a"/>
<rect x="316.79999999999995" y="615.6" width="1.3" height="1.3" fill="#1c1c7a"/>
<rect x="318.2" y="611.6999999999999" width="1.3" height="1.3" fill="#1c1c7a"/>
<rect x="314.2" y="623.9" width="1.3" height="1.3" fill="#1c1c7a"/>
<rect x="316.79999999999995" y="620.6999999999999" width="1.3" height="1.3" fill="#1c1c7a"/>
<rect x="287.4" y="629.4" width="1.3" height="1.3" fill="#1c1c7a"/>
<rect x="290.0" y="632.0" width="1.3" height="1.3" fill="#1c1c7a"/>
<rect x="291.7" y="634.6" width="1.3" height="1.3" fill="#1c1c7a"/>
<rect x="295.09999999999997" y="634.6" width="1.3" height="1.3" fill="#1c1c7a"/>
<rect x="286.5" y="639.8" width="1.3" height="1.3" fill="#1c1c7a"/>
<rect x="290.79999999999995" y="638.1" width="1.3" height="1.3" fill="#1c1c7a"/>
<rect x="303.79999999999995" y="640.6" width="1.3" height="1.3" fill="#1c1c7a"/>
<rect x="302.9" y="646.4" width="1.3" height="1.3" fill="#1c1c7a"/>
<rect x="297.7" y="650.1999999999999" width="1.3" height="1.3" fill="#1c1c7a"/>
<rect x="307.29999999999995" y="651.6" width="1.3" height="1.3" fill="#1c1c7a"/>
<rect x="316.4" y="648.4" width="1.3" height="1.3" fill="#1c1c7a"/>
<rect x="287.4" y="645.0" width="1.3" height="1.3" fill="#1c1c7a"/>
<rect x="292.2" y="646.4" width="1.3" height="1.3" fill="#1c1c7a"/>
<rect x="288.4" y="622.9" width="1.3" height="1.3" fill="#1c1c7a"/>
<rect x="289.4" y="627.4" width="1.3" height="1.3" fill="#1c1c7a"/>
<rect x="290.4" y="633.4" width="1.3" height="1.3" fill="#1c1c7a"/>
<rect x="293.4" y="636.4" width="1.3" height="1.3" fill="#1c1c7a"/>
<rect x="286.9" y="641.9" width="1.3" height="1.3" fill="#1c1c7a"/>
<rect x="288.9" y="643.4" width="1.3" height="1.3" fill="#1c1c7a"/>
<rect x="292.4" y="648.9" width="1.3" height="1.3" fill="#1c1c7a"/>
<rect x="295.4" y="650.4" width="1.3" height="1.3" fill="#1c1c7a"/>
<rect x="296.4" y="652.9" width="1.3" height="1.3" fill="#1c1c7a"/>
<rect x="311.4" y="618.9" width="1.3" height="1.3" fill="#1c1c7a"/>
<rect x="310.4" y="622.9" width="1.3" height="1.3" fill="#1c1c7a"/>
<rect x="299.4" y="630.4" width="1.3" height="1.3" fill="#1c1c7a"/>
<rect x="295.4" y="639.4" width="1.3" height="1.3" fill="#1c1c7a"/>
<ellipse cx="290.16" cy="652.5" rx="3.9000000000000004" ry="2.1" fill="#2a2a8c" stroke="#15156e" stroke-width="0.8"/>
<ellipse cx="287.3" cy="652.2" rx="5.2" ry="3.5" fill="#2a2a8c" stroke="#15156e" stroke-width="1"/>
<ellipse cx="286.8" cy="652.2" rx="2.8600000000000003" ry="2.1" fill="#5a6a6a"/>
<ellipse cx="286.6" cy="652.2" rx="1.56" ry="1.12" fill="#c8c860"/>
<line x1="295.2" y1="589.3" x2="295.2" y2="667.7" stroke="#555" stroke-width="1.1"/>
<line x1="269.8" y1="644.2" x2="347.7" y2="644.2" stroke="#555" stroke-width="1.1"/>
<text x="308.75" y="583.8" font-size="7.2" font-weight="normal" fill="#222" text-anchor="middle" textLength="32.5" lengthAdjust="spacingAndGlyphs" >CMV-pp65</text>
<text x="271.3" y="595.3" font-size="4.6" font-weight="normal" fill="#444" text-anchor="start" >Q3</text>
<text x="271.3" y="601.5" font-size="4.6" font-weight="normal" fill="#444" text-anchor="start" >0.085%</text>
<text x="346.2" y="595.3" font-size="4.6" font-weight="normal" fill="#444" text-anchor="end" >Q2</text>
<text x="346.2" y="601.5" font-size="4.6" font-weight="normal" fill="#444" text-anchor="end" >0.027%</text>
<text x="271.3" y="659.2" font-size="4.6" font-weight="normal" fill="#444" text-anchor="start" >Q4</text>
<text x="271.3" y="665.4" font-size="4.6" font-weight="normal" fill="#444" text-anchor="start" >99.9%</text>
<text x="346.2" y="659.2" font-size="4.6" font-weight="normal" fill="#444" text-anchor="end" >Q1</text>
<text x="346.2" y="665.4" font-size="4.6" font-weight="normal" fill="#444" text-anchor="end" >8.64E-3%</text>
<rect x="373.2" y="589.6" width="80.5" height="80.10000000000002" fill="none" stroke="#777" stroke-width="0.8"/>
<line x1="370.7" y1="597.5" x2="373.2" y2="597.5" stroke="#333" stroke-width="0.8"/>
<text x="367.8" y="599.7" font-size="6.2" font-weight="normal" fill="#333" text-anchor="end" >10<tspan dy="-2" font-size="4">5</tspan></text>
<line x1="370.7" y1="616" x2="373.2" y2="616" stroke="#333" stroke-width="0.8"/>
<text x="367.8" y="618.2" font-size="6.2" font-weight="normal" fill="#333" text-anchor="end" >10<tspan dy="-2" font-size="4">4</tspan></text>
<line x1="370.7" y1="636.5" x2="373.2" y2="636.5" stroke="#333" stroke-width="0.8"/>
<text x="367.8" y="638.7" font-size="6.2" font-weight="normal" fill="#333" text-anchor="end" >10<tspan dy="-2" font-size="4">3</tspan></text>
<line x1="370.7" y1="652.2" x2="373.2" y2="652.2" stroke="#333" stroke-width="0.8"/>
<text x="367.8" y="654.4000000000001" font-size="6.2" font-weight="normal" fill="#333" text-anchor="end" >0</text>
<line x1="373.79999999999995" y1="669.7" x2="373.79999999999995" y2="672.2" stroke="#333" stroke-width="0.8"/>
<text x="375.4" y="680.8" font-size="6.2" font-weight="normal" fill="#333" text-anchor="middle" >&#8722;10<tspan dy="-2" font-size="4">3</tspan></text>
<line x1="390.5" y1="669.7" x2="390.5" y2="672.2" stroke="#333" stroke-width="0.8"/>
<text x="390.5" y="680.8" font-size="6.2" font-weight="normal" fill="#333" text-anchor="middle" >0</text>
<line x1="405.9" y1="669.7" x2="405.9" y2="672.2" stroke="#333" stroke-width="0.8"/>
<text x="407.5" y="680.8" font-size="6.2" font-weight="normal" fill="#333" text-anchor="middle" >10<tspan dy="-2" font-size="4">3</tspan></text>
<line x1="427.09999999999997" y1="669.7" x2="427.09999999999997" y2="672.2" stroke="#333" stroke-width="0.8"/>
<text x="428.7" y="680.8" font-size="6.2" font-weight="normal" fill="#333" text-anchor="middle" >10<tspan dy="-2" font-size="4">4</tspan></text>
<line x1="444.7" y1="669.7" x2="444.7" y2="672.2" stroke="#333" stroke-width="0.8"/>
<text x="446.3" y="680.8" font-size="6.2" font-weight="normal" fill="#333" text-anchor="middle" >10<tspan dy="-2" font-size="4">5</tspan></text>
<rect x="389.4" y="620.4" width="1.3" height="1.3" fill="#1c1c7a"/>
<rect x="392.2" y="623.4" width="1.3" height="1.3" fill="#1c1c7a"/>
<rect x="390.4" y="626.9" width="1.3" height="1.3" fill="#1c1c7a"/>
<rect x="393.0" y="628.4" width="1.3" height="1.3" fill="#1c1c7a"/>
<rect x="389.59999999999997" y="631.9" width="1.3" height="1.3" fill="#1c1c7a"/>
<rect x="392.0" y="634.4" width="1.3" height="1.3" fill="#1c1c7a"/>
<rect x="394.4" y="637.9" width="1.3" height="1.3" fill="#1c1c7a"/>
<rect x="390.2" y="640.9" width="1.3" height="1.3" fill="#1c1c7a"/>
<rect x="392.4" y="643.4" width="1.3" height="1.3" fill="#1c1c7a"/>
<rect x="394.9" y="645.4" width="1.3" height="1.3" fill="#1c1c7a"/>
<rect x="390.9" y="646.6" width="1.3" height="1.3" fill="#1c1c7a"/>
<rect x="393.7" y="647.6999999999999" width="1.3" height="1.3" fill="#1c1c7a"/>
<rect x="396.9" y="649.4" width="1.3" height="1.3" fill="#1c1c7a"/>
<rect x="388.9" y="644.4" width="1.3" height="1.3" fill="#1c1c7a"/>
<rect x="395.9" y="640.4" width="1.3" height="1.3" fill="#1c1c7a"/>
<rect x="391.4" y="617.9" width="1.3" height="1.3" fill="#1c1c7a"/>
<rect x="393.9" y="616.4" width="1.3" height="1.3" fill="#1c1c7a"/>
<rect x="396.4" y="624.4" width="1.3" height="1.3" fill="#1c1c7a"/>
<rect x="395.4" y="627.9" width="1.3" height="1.3" fill="#1c1c7a"/>
<rect x="395.59999999999997" y="632.9" width="1.3" height="1.3" fill="#1c1c7a"/>
<rect x="390.79999999999995" y="619.0" width="1.3" height="1.3" fill="#1c1c7a"/>
<rect x="393.4" y="621.6" width="1.3" height="1.3" fill="#1c1c7a"/>
<rect x="389.9" y="625.1" width="1.3" height="1.3" fill="#1c1c7a"/>
<rect x="394.2" y="625.9" width="1.3" height="1.3" fill="#1c1c7a"/>
<rect x="391.59999999999997" y="629.4" width="1.3" height="1.3" fill="#1c1c7a"/>
<rect x="395.09999999999997" y="631.1" width="1.3" height="1.3" fill="#1c1c7a"/>
<rect x="389.9" y="633.6999999999999" width="1.3" height="1.3" fill="#1c1c7a"/>
<rect x="393.4" y="636.3" width="1.3" height="1.3" fill="#1c1c7a"/>
<rect x="390.79999999999995" y="639.8" width="1.3" height="1.3" fill="#1c1c7a"/>
<rect x="394.2" y="642.4" width="1.3" height="1.3" fill="#1c1c7a"/>
<rect x="391.59999999999997" y="645.0" width="1.3" height="1.3" fill="#1c1c7a"/>
<rect x="396.0" y="646.6999999999999" width="1.3" height="1.3" fill="#1c1c7a"/>
<rect x="389.9" y="648.4" width="1.3" height="1.3" fill="#1c1c7a"/>
<rect x="397.7" y="651.0" width="1.3" height="1.3" fill="#1c1c7a"/>
<rect x="398.59999999999997" y="615.6" width="1.3" height="1.3" fill="#1c1c7a"/>
<rect x="400.29999999999995" y="620.6999999999999" width="1.3" height="1.3" fill="#1c1c7a"/>
<rect x="402.9" y="625.1" width="1.3" height="1.3" fill="#1c1c7a"/>
<rect x="399.4" y="630.3" width="1.3" height="1.3" fill="#1c1c7a"/>
<rect x="402.9" y="632.0" width="1.3" height="1.3" fill="#1c1c7a"/>
<rect x="406.4" y="630.3" width="1.3" height="1.3" fill="#1c1c7a"/>
<rect x="408.9" y="625.1" width="1.3" height="1.3" fill="#1c1c7a"/>
<rect x="411.5" y="621.6" width="1.3" height="1.3" fill="#1c1c7a"/>
<rect x="413.29999999999995" y="624.1999999999999" width="1.3" height="1.3" fill="#1c1c7a"/>
<rect x="415.0" y="622.5" width="1.3" height="1.3" fill="#1c1c7a"/>
<rect x="420.2" y="625.1" width="1.3" height="1.3" fill="#1c1c7a"/>
<rect x="421.9" y="619.0" width="1.3" height="1.3" fill="#1c1c7a"/>
<rect x="425.4" y="613.5" width="1.3" height="1.3" fill="#1c1c7a"/>
<rect x="428.0" y="613.8" width="1.3" height="1.3" fill="#1c1c7a"/>
<rect x="403.7" y="636.3" width="1.3" height="1.3" fill="#1c1c7a"/>
<rect x="409.79999999999995" y="636.3" width="1.3" height="1.3" fill="#1c1c7a"/>
<rect x="408.09999999999997" y="639.4" width="1.3" height="1.3" fill="#1c1c7a"/>
<rect x="398.59999999999997" y="638.9" width="1.3" height="1.3" fill="#1c1c7a"/>
<rect x="403.7" y="643.1999999999999" width="1.3" height="1.3" fill="#1c1c7a"/>
<rect x="405.5" y="651.9" width="1.3" height="1.3" fill="#1c1c7a"/>
<rect x="397.7" y="641.5" width="1.3" height="1.3" fill="#1c1c7a"/>
<rect x="391.4" y="627.4" width="1.3" height="1.3" fill="#1c1c7a"/>
<rect x="392.4" y="632.4" width="1.3" height="1.3" fill="#1c1c7a"/>
<rect x="390.4" y="637.4" width="1.3" height="1.3" fill="#1c1c7a"/>
<rect x="392.9" y="641.4" width="1.3" height="1.3" fill="#1c1c7a"/>
<rect x="394.4" y="644.4" width="1.3" height="1.3" fill="#1c1c7a"/>
<rect x="395.4" y="648.4" width="1.3" height="1.3" fill="#1c1c7a"/>
<rect x="391.9" y="620.4" width="1.3" height="1.3" fill="#1c1c7a"/>
<rect x="390.2" y="630.9" width="1.3" height="1.3" fill="#1c1c7a"/>
<rect x="396.4" y="635.4" width="1.3" height="1.3" fill="#1c1c7a"/>
<rect x="400.4" y="626.4" width="1.3" height="1.3" fill="#1c1c7a"/>
<rect x="410.4" y="627.4" width="1.3" height="1.3" fill="#1c1c7a"/>
<ellipse cx="392.72999999999996" cy="654.1999999999999" rx="3.4499999999999997" ry="2.16" fill="#2a2a8c" stroke="#15156e" stroke-width="0.8"/>
<ellipse cx="390.2" cy="653.9" rx="4.6" ry="3.6" fill="#2a2a8c" stroke="#15156e" stroke-width="1"/>
<ellipse cx="389.7" cy="653.9" rx="2.53" ry="2.16" fill="#5a6a6a"/>
<ellipse cx="389.5" cy="653.9" rx="1.38" ry="1.1520000000000001" fill="#c8c860"/>
<line x1="398.8" y1="589.6" x2="398.8" y2="669.7" stroke="#555" stroke-width="1.1"/>
<line x1="373.2" y1="645" x2="453.7" y2="645" stroke="#555" stroke-width="1.1"/>
<text x="413.75" y="583.8" font-size="7.2" font-weight="normal" fill="#222" text-anchor="middle" textLength="55" lengthAdjust="spacingAndGlyphs" >CMV-pp65 +PhAg</text>
<text x="374.7" y="595.3" font-size="4.6" font-weight="normal" fill="#444" text-anchor="start" >Q3</text>
<text x="374.7" y="601.5" font-size="4.6" font-weight="normal" fill="#444" text-anchor="start" >0.081%</text>
<text x="452.2" y="595.3" font-size="4.6" font-weight="normal" fill="#444" text-anchor="end" >Q2</text>
<text x="452.2" y="601.5" font-size="4.6" font-weight="normal" fill="#444" text-anchor="end" >0.041%</text>
<text x="374.7" y="659.2" font-size="4.6" font-weight="normal" fill="#444" text-anchor="start" >Q4</text>
<text x="374.7" y="665.4" font-size="4.6" font-weight="normal" fill="#444" text-anchor="start" >99.9%</text>
<text x="452.2" y="659.2" font-size="4.6" font-weight="normal" fill="#444" text-anchor="end" >Q1</text>
<text x="452.2" y="665.4" font-size="4.6" font-weight="normal" fill="#444" text-anchor="end" >3.36E-3%</text>
<line x1="244.7" y1="642" x2="244.7" y2="594" stroke="#222" stroke-width="1.1"/>
<polygon points="244.7,589.7 242.4,595.5 247,595.5" fill="#222"/>
<text transform="translate(247.6,658.8) rotate(-90)" x="0" y="0" font-size="7.6" font-weight="bold" fill="#222" text-anchor="middle" textLength="27" lengthAdjust="spacingAndGlyphs">TNF-&#945;</text>
<text x="266.7" y="692.8" font-size="7.2" font-weight="bold" fill="#222" text-anchor="start" textLength="16.4" lengthAdjust="spacingAndGlyphs" >IFN-&#947;</text>
<line x1="289.8" y1="690.5" x2="448" y2="690.5" stroke="#222" stroke-width="1.1"/>
<polygon points="453.5,690.5 447.5,688.2 447.5,692.8" fill="#222"/>
</svg></body></html>
